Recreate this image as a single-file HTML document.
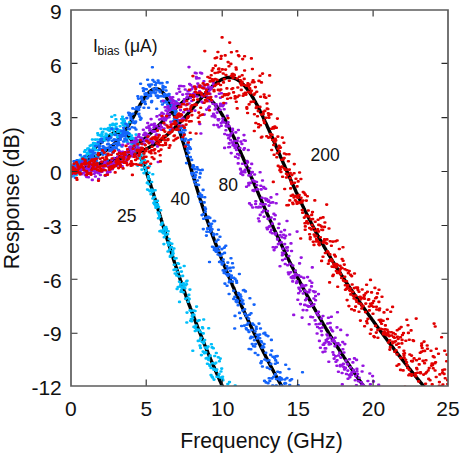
<!DOCTYPE html>
<html><head><meta charset="utf-8"><style>
html,body{margin:0;padding:0;background:#fff;}
svg{display:block;}
text{font-family:"Liberation Sans",sans-serif;fill:#111;}
</style></head><body>
<svg width="463" height="455" viewBox="0 0 463 455">
<defs><clipPath id="c"><rect x="71.0" y="10.0" width="377.0" height="376.0"/></clipPath></defs>
<rect width="463" height="455" fill="#fff"/>
<g clip-path="url(#c)" fill="none" stroke-linecap="round" stroke-linejoin="round">
<g stroke="#000" stroke-width="3.4">
<path d="M71.0 171.1 L71.3 170.8 L71.6 170.5 L71.9 170.3 L72.3 170.0 L72.6 169.7 L72.9 169.4 L73.2 169.1 L73.5 168.8 L73.8 168.5 L74.1 168.2 L74.5 167.9 L74.8 167.6 L75.1 167.3 L75.4 167.0 L75.7 166.7 L76.0 166.4 L76.3 166.1 L76.7 165.8 L77.0 165.5 L77.3 165.2 L77.6 164.9 L77.9 164.6 L78.2 164.3 L78.5 164.0 L78.9 163.7 L79.2 163.4 L79.5 163.1 L79.8 162.8 L80.1 162.5 L80.4 162.2 L80.7 161.9 L81.1 161.6 L81.4 161.3 L81.7 161.0 L82.0 160.7 L82.3 160.4 L82.6 160.1 L82.9 159.8 L83.3 159.5 L83.6 159.2 L83.9 158.8 L84.2 158.5 L84.5 158.2 L84.8 157.9 L85.1 157.6 L85.5 157.3 L85.8 157.0 L86.1 156.7 L86.4 156.4 L86.7 156.1 L87.0 155.8 L87.4 155.5 L87.7 155.2 L88.0 154.9 L88.3 154.5 L88.6 154.2 L88.9 153.9 L89.2 153.6 L89.6 153.3 L89.9 153.0 L90.2 152.7 L90.5 152.4 L90.8 152.1 L91.1 151.8 L91.4 151.5 L91.8 151.2 L92.1 150.9 L92.4 150.5 L92.7 150.2 L93.0 149.9 L93.3 149.6 L93.6 149.3 L94.0 149.0 L94.3 148.7 L94.6 148.4 L94.9 148.1 L95.2 147.8 L95.5 147.5 L95.8 147.2 L96.2 146.9 L96.5 146.6 L96.8 146.3 L97.1 146.0 L97.4 145.7 L97.7 145.4 L98.0 145.1 L98.4 144.8 L98.7 144.5 L99.0 144.2 L99.3 143.9 L99.6 143.6 L99.9 143.4 L100.2 143.1 L100.6 142.8 L100.9 142.5 L101.2 142.2 L101.5 141.9 L101.8 141.6 L102.1 141.4 L102.4 141.1 L102.8 140.8 L103.1 140.6 L103.4 140.3 L103.7 140.0 L104.0 139.7 L104.3 139.5 L104.6 139.2 L105.0 139.0 L105.3 138.7 L105.6 138.5 L105.9 138.2 L106.2 138.0 L106.5 137.7 L106.8 137.5 L107.2 137.2 L107.5 137.0 L107.8 136.8 L108.1 136.6 L108.4 136.3 L108.7 136.1 L109.0 135.9 L109.4 135.7 L109.7 135.5 L110.0 135.3 L110.3 135.1 L110.6 134.9 L110.9 134.7 L111.2 134.5 L111.6 134.3 L111.9 134.2 L112.2 134.0 L112.5 133.9 L112.8 133.7 L113.1 133.6 L113.4 133.4 L113.8 133.3 L114.1 133.2 L114.4 133.0 L114.7 132.9 L115.0 132.8 L115.3 132.7 L115.6 132.6 L116.0 132.5 L116.3 132.5 L116.6 132.4 L116.9 132.3 L117.2 132.3 L117.5 132.2 L117.8 132.2 L118.2 132.2 L118.5 132.2 L118.8 132.2 L119.1 132.2 L119.4 132.2 L119.7 132.2 L120.1 132.2 L120.4 132.3 L120.7 132.3 L121.0 132.4 L121.3 132.4 L121.6 132.5 L121.9 132.6 L122.3 132.7 L122.6 132.8 L122.9 132.9 L123.2 133.0 L123.5 133.1 L123.8 133.3 L124.1 133.4 L124.5 133.6 L124.8 133.8 L125.1 134.0 L125.4 134.1 L125.7 134.4 L126.0 134.6 L126.3 134.8 L126.7 135.0 L127.0 135.3 L127.3 135.5 L127.6 135.8 L127.9 136.1 L128.2 136.3 L128.5 136.6 L128.9 137.0 L129.2 137.3 L129.5 137.6 L129.8 137.9 L130.1 138.3 L130.4 138.7 L130.7 139.0 L131.1 139.4 L131.4 139.8 L131.7 140.2 L132.0 140.6 L132.3 141.1 L132.6 141.5 L132.9 142.0 L133.3 142.4 L133.6 142.9 L133.9 143.4 L134.2 143.9 L134.5 144.4 L134.8 145.0 L135.1 145.5 L135.5 146.1 L135.8 146.6 L136.1 147.2 L136.4 147.8 L136.7 148.4 L137.0 149.0 L137.3 149.6 L137.7 150.3 L138.0 150.9 L138.3 151.6 L138.6 152.2 L138.9 152.9 L139.2 153.6 L139.5 154.3 L139.9 155.0 L140.2 155.8 L140.5 156.5 L140.8 157.3 L141.1 158.0 L141.4 158.8 L141.7 159.6 L142.1 160.3 L142.4 161.1 L142.7 162.0 L143.0 162.8 L143.3 163.6 L143.6 164.4 L143.9 165.3 L144.3 166.1 L144.6 167.0 L144.9 167.9 L145.2 168.7 L145.5 169.6 L145.8 170.5 L146.1 171.4 L146.5 172.3 L146.8 173.2 L147.1 174.2 L147.4 175.1 L147.7 176.0 L148.0 177.0 L148.3 177.9 L148.7 178.9 L149.0 179.8 L149.3 180.8 L149.6 181.7 L149.9 182.7 L150.2 183.7 L150.6 184.7 L150.9 185.7 L151.2 186.7 L151.5 187.6 L151.8 188.6 L152.1 189.6 L152.4 190.7 L152.8 191.7 L153.1 192.7 L153.4 193.7 L153.7 194.7 L154.0 195.7 L154.3 196.8 L154.6 197.8 L155.0 198.8 L155.3 199.8 L155.6 200.9 L155.9 201.9 L156.2 202.9 L156.5 204.0 L156.8 205.0 L157.2 206.0 L157.5 207.1 L157.8 208.1 L158.1 209.2 L158.4 210.2 L158.7 211.3 L159.0 212.3 L159.4 213.3 L159.7 214.4 L160.0 215.4 L160.3 216.5 L160.6 217.5 L160.9 218.6 L161.2 219.6 L161.6 220.6 L161.9 221.7 L162.2 222.7 L162.5 223.8 L162.8 224.8 L163.1 225.8 L163.4 226.9 L163.8 227.9 L164.1 228.9 L164.4 230.0 L164.7 231.0 L165.0 232.0 L165.3 233.1 L165.6 234.1 L166.0 235.1 L166.3 236.1 L166.6 237.2 L166.9 238.2 L167.2 239.2 L167.5 240.2 L167.8 241.2 L168.2 242.3 L168.5 243.3 L168.8 244.3 L169.1 245.3 L169.4 246.3 L169.7 247.3 L170.0 248.3 L170.4 249.3 L170.7 250.3 L171.0 251.3 L171.3 252.3 L171.6 253.3 L171.9 254.3 L172.2 255.3 L172.6 256.2 L172.9 257.2 L173.2 258.2 L173.5 259.2 L173.8 260.2 L174.1 261.1 L174.4 262.1 L174.8 263.1 L175.1 264.0 L175.4 265.0 L175.7 266.0 L176.0 266.9 L176.3 267.9 L176.6 268.8 L177.0 269.8 L177.3 270.7 L177.6 271.7 L177.9 272.6 L178.2 273.6 L178.5 274.5 L178.8 275.4 L179.2 276.4 L179.5 277.3 L179.8 278.2 L180.1 279.1 L180.4 280.1 L180.7 281.0 L181.1 281.9 L181.4 282.8 L181.7 283.7 L182.0 284.6 L182.3 285.6 L182.6 286.5 L182.9 287.4 L183.3 288.3 L183.6 289.2 L183.9 290.1 L184.2 291.0 L184.5 291.8 L184.8 292.7 L185.1 293.6 L185.5 294.5 L185.8 295.4 L186.1 296.3 L186.4 297.1 L186.7 298.0 L187.0 298.9 L187.3 299.8 L187.7 300.6 L188.0 301.5 L188.3 302.4 L188.6 303.2 L188.9 304.1 L189.2 304.9 L189.5 305.8 L189.9 306.6 L190.2 307.5 L190.5 308.3 L190.8 309.2 L191.1 310.0 L191.4 310.9 L191.7 311.7 L192.1 312.6 L192.4 313.4 L192.7 314.2 L193.0 315.1 L193.3 315.9 L193.6 316.7 L193.9 317.6 L194.3 318.4 L194.6 319.2 L194.9 320.0 L195.2 320.8 L195.5 321.7 L195.8 322.5 L196.1 323.3 L196.5 324.1 L196.8 324.9 L197.1 325.7 L197.4 326.5 L197.7 327.3 L198.0 328.1 L198.3 328.9 L198.7 329.7 L199.0 330.5 L199.3 331.3 L199.6 332.1 L199.9 332.9 L200.2 333.7 L200.5 334.5 L200.9 335.3 L201.2 336.1 L201.5 336.9 L201.8 337.7 L202.1 338.4 L202.4 339.2 L202.7 340.0 L203.1 340.8 L203.4 341.6 L203.7 342.3 L204.0 343.1 L204.3 343.9 L204.6 344.7 L204.9 345.4 L205.3 346.2 L205.6 347.0 L205.9 347.7 L206.2 348.5 L206.5 349.3 L206.8 350.0 L207.1 350.8 L207.5 351.6 L207.8 352.3 L208.1 353.1 L208.4 353.8 L208.7 354.6 L209.0 355.3 L209.3 356.1 L209.7 356.9 L210.0 357.6 L210.3 358.3 L210.6 359.1 L210.9 359.8 L211.2 360.6 L211.5 361.3 L211.9 362.1 L212.2 362.8 L212.5 363.6 L212.8 364.3 L213.1 365.0 L213.4 365.8 L213.8 366.5 L214.1 367.2 L214.4 368.0 L214.7 368.7 L215.0 369.4 L215.3 370.2 L215.6 370.9 L216.0 371.6 L216.3 372.3 L216.6 373.1 L216.9 373.8 L217.2 374.5 L217.5 375.2 L217.8 376.0 L218.2 376.7 L218.5 377.4 L218.8 378.1 L219.1 378.8 L219.4 379.5 L219.7 380.3 L220.0 381.0 L220.4 381.7 L220.7 382.4 L221.0 383.1 L221.3 383.8 L221.6 384.5 L221.9 385.2 L222.2 385.9 L222.6 386.6 L222.9 387.3 L223.2 388.0 L223.5 388.7 L223.8 389.4 L224.1 390.1"/><path d="M71.0 171.2 L71.3 170.9 L71.6 170.6 L71.9 170.3 L72.3 170.1 L72.6 169.8 L72.9 169.5 L73.2 169.3 L73.5 169.0 L73.8 168.8 L74.1 168.5 L74.5 168.3 L74.8 168.0 L75.1 167.8 L75.4 167.6 L75.7 167.3 L76.0 167.1 L76.3 166.9 L76.7 166.6 L77.0 166.4 L77.3 166.2 L77.6 166.0 L77.9 165.8 L78.2 165.6 L78.5 165.4 L78.9 165.2 L79.2 165.0 L79.5 164.8 L79.8 164.6 L80.1 164.4 L80.4 164.2 L80.7 164.0 L81.1 163.8 L81.4 163.6 L81.7 163.4 L82.0 163.2 L82.3 163.1 L82.6 162.9 L82.9 162.7 L83.3 162.5 L83.6 162.3 L83.9 162.2 L84.2 162.0 L84.5 161.8 L84.8 161.7 L85.1 161.5 L85.5 161.3 L85.8 161.2 L86.1 161.0 L86.4 160.9 L86.7 160.7 L87.0 160.5 L87.4 160.4 L87.7 160.2 L88.0 160.1 L88.3 159.9 L88.6 159.8 L88.9 159.6 L89.2 159.4 L89.6 159.3 L89.9 159.1 L90.2 159.0 L90.5 158.8 L90.8 158.7 L91.1 158.5 L91.4 158.4 L91.8 158.2 L92.1 158.1 L92.4 157.9 L92.7 157.8 L93.0 157.6 L93.3 157.5 L93.6 157.3 L94.0 157.2 L94.3 157.0 L94.6 156.9 L94.9 156.7 L95.2 156.6 L95.5 156.4 L95.8 156.2 L96.2 156.1 L96.5 155.9 L96.8 155.8 L97.1 155.6 L97.4 155.5 L97.7 155.3 L98.0 155.1 L98.4 155.0 L98.7 154.8 L99.0 154.6 L99.3 154.5 L99.6 154.3 L99.9 154.1 L100.2 154.0 L100.6 153.8 L100.9 153.6 L101.2 153.4 L101.5 153.3 L101.8 153.1 L102.1 152.9 L102.4 152.7 L102.8 152.5 L103.1 152.3 L103.4 152.2 L103.7 152.0 L104.0 151.8 L104.3 151.6 L104.6 151.4 L105.0 151.2 L105.3 151.0 L105.6 150.8 L105.9 150.6 L106.2 150.3 L106.5 150.1 L106.8 149.9 L107.2 149.7 L107.5 149.5 L107.8 149.2 L108.1 149.0 L108.4 148.8 L108.7 148.6 L109.0 148.3 L109.4 148.1 L109.7 147.8 L110.0 147.6 L110.3 147.3 L110.6 147.1 L110.9 146.8 L111.2 146.6 L111.6 146.3 L111.9 146.0 L112.2 145.7 L112.5 145.5 L112.8 145.2 L113.1 144.9 L113.4 144.6 L113.8 144.3 L114.1 144.0 L114.4 143.7 L114.7 143.4 L115.0 143.1 L115.3 142.8 L115.6 142.5 L116.0 142.2 L116.3 141.9 L116.6 141.5 L116.9 141.2 L117.2 140.9 L117.5 140.5 L117.8 140.2 L118.2 139.8 L118.5 139.5 L118.8 139.1 L119.1 138.7 L119.4 138.4 L119.7 138.0 L120.1 137.6 L120.4 137.2 L120.7 136.8 L121.0 136.4 L121.3 136.0 L121.6 135.6 L121.9 135.2 L122.3 134.8 L122.6 134.4 L122.9 134.0 L123.2 133.5 L123.5 133.1 L123.8 132.7 L124.1 132.2 L124.5 131.8 L124.8 131.3 L125.1 130.8 L125.4 130.4 L125.7 129.9 L126.0 129.4 L126.3 129.0 L126.7 128.5 L127.0 128.0 L127.3 127.5 L127.6 127.0 L127.9 126.5 L128.2 126.0 L128.5 125.4 L128.9 124.9 L129.2 124.4 L129.5 123.8 L129.8 123.3 L130.1 122.8 L130.4 122.2 L130.7 121.7 L131.1 121.1 L131.4 120.6 L131.7 120.0 L132.0 119.4 L132.3 118.9 L132.6 118.3 L132.9 117.7 L133.3 117.2 L133.6 116.6 L133.9 116.0 L134.2 115.5 L134.5 114.9 L134.8 114.3 L135.1 113.7 L135.5 113.1 L135.8 112.6 L136.1 112.0 L136.4 111.4 L136.7 110.8 L137.0 110.3 L137.3 109.7 L137.7 109.1 L138.0 108.6 L138.3 108.0 L138.6 107.4 L138.9 106.9 L139.2 106.3 L139.5 105.8 L139.9 105.2 L140.2 104.7 L140.5 104.1 L140.8 103.6 L141.1 103.1 L141.4 102.6 L141.7 102.0 L142.1 101.5 L142.4 101.0 L142.7 100.5 L143.0 100.0 L143.3 99.6 L143.6 99.1 L143.9 98.6 L144.3 98.2 L144.6 97.7 L144.9 97.3 L145.2 96.8 L145.5 96.4 L145.8 96.0 L146.1 95.6 L146.5 95.2 L146.8 94.8 L147.1 94.4 L147.4 94.1 L147.7 93.7 L148.0 93.4 L148.3 93.0 L148.7 92.7 L149.0 92.4 L149.3 92.1 L149.6 91.8 L149.9 91.5 L150.2 91.3 L150.6 91.0 L150.9 90.8 L151.2 90.5 L151.5 90.3 L151.8 90.1 L152.1 89.9 L152.4 89.8 L152.8 89.6 L153.1 89.4 L153.4 89.3 L153.7 89.2 L154.0 89.1 L154.3 89.0 L154.6 88.9 L155.0 88.9 L155.3 88.8 L155.6 88.8 L155.9 88.8 L156.2 88.8 L156.5 88.8 L156.8 88.8 L157.2 88.9 L157.5 88.9 L157.8 89.0 L158.1 89.1 L158.4 89.2 L158.7 89.4 L159.0 89.5 L159.4 89.7 L159.7 89.8 L160.0 90.0 L160.3 90.3 L160.6 90.5 L160.9 90.7 L161.2 91.0 L161.6 91.3 L161.9 91.6 L162.2 91.9 L162.5 92.2 L162.8 92.6 L163.1 92.9 L163.4 93.3 L163.8 93.7 L164.1 94.1 L164.4 94.6 L164.7 95.0 L165.0 95.5 L165.3 95.9 L165.6 96.4 L166.0 97.0 L166.3 97.5 L166.6 98.0 L166.9 98.6 L167.2 99.2 L167.5 99.7 L167.8 100.3 L168.2 101.0 L168.5 101.6 L168.8 102.2 L169.1 102.9 L169.4 103.6 L169.7 104.2 L170.0 104.9 L170.4 105.6 L170.7 106.4 L171.0 107.1 L171.3 107.8 L171.6 108.6 L171.9 109.4 L172.2 110.2 L172.6 110.9 L172.9 111.7 L173.2 112.6 L173.5 113.4 L173.8 114.2 L174.1 115.1 L174.4 115.9 L174.8 116.8 L175.1 117.6 L175.4 118.5 L175.7 119.4 L176.0 120.3 L176.3 121.2 L176.6 122.1 L177.0 123.0 L177.3 124.0 L177.6 124.9 L177.9 125.8 L178.2 126.8 L178.5 127.8 L178.8 128.7 L179.2 129.7 L179.5 130.7 L179.8 131.6 L180.1 132.6 L180.4 133.6 L180.7 134.6 L181.1 135.6 L181.4 136.6 L181.7 137.6 L182.0 138.6 L182.3 139.6 L182.6 140.7 L182.9 141.7 L183.3 142.7 L183.6 143.7 L183.9 144.8 L184.2 145.8 L184.5 146.8 L184.8 147.9 L185.1 148.9 L185.5 150.0 L185.8 151.0 L186.1 152.1 L186.4 153.1 L186.7 154.2 L187.0 155.2 L187.3 156.3 L187.7 157.4 L188.0 158.4 L188.3 159.5 L188.6 160.5 L188.9 161.6 L189.2 162.7 L189.5 163.7 L189.9 164.8 L190.2 165.9 L190.5 166.9 L190.8 168.0 L191.1 169.1 L191.4 170.1 L191.7 171.2 L192.1 172.2 L192.4 173.3 L192.7 174.4 L193.0 175.4 L193.3 176.5 L193.6 177.5 L193.9 178.6 L194.3 179.6 L194.6 180.7 L194.9 181.7 L195.2 182.8 L195.5 183.8 L195.8 184.9 L196.1 185.9 L196.5 187.0 L196.8 188.0 L197.1 189.0 L197.4 190.0 L197.7 191.1 L198.0 192.1 L198.3 193.1 L198.7 194.1 L199.0 195.1 L199.3 196.2 L199.6 197.2 L199.9 198.2 L200.2 199.2 L200.5 200.1 L200.9 201.1 L201.2 202.1 L201.5 203.1 L201.8 204.1 L202.1 205.1 L202.4 206.0 L202.7 207.0 L203.1 208.0 L203.4 208.9 L203.7 209.9 L204.0 210.8 L204.3 211.8 L204.6 212.7 L204.9 213.7 L205.3 214.6 L205.6 215.5 L205.9 216.5 L206.2 217.4 L206.5 218.3 L206.8 219.2 L207.1 220.2 L207.5 221.1 L207.8 222.0 L208.1 222.9 L208.4 223.8 L208.7 224.7 L209.0 225.6 L209.3 226.5 L209.7 227.4 L210.0 228.3 L210.3 229.1 L210.6 230.0 L210.9 230.9 L211.2 231.8 L211.5 232.6 L211.9 233.5 L212.2 234.4 L212.5 235.2 L212.8 236.1 L213.1 236.9 L213.4 237.8 L213.8 238.6 L214.1 239.5 L214.4 240.3 L214.7 241.2 L215.0 242.0 L215.3 242.8 L215.6 243.7 L216.0 244.5 L216.3 245.3 L216.6 246.2 L216.9 247.0 L217.2 247.8 L217.5 248.6 L217.8 249.4 L218.2 250.2 L218.5 251.0 L218.8 251.9 L219.1 252.7 L219.4 253.5 L219.7 254.3 L220.0 255.1 L220.4 255.8 L220.7 256.6 L221.0 257.4 L221.3 258.2 L221.6 259.0 L221.9 259.8 L222.2 260.6 L222.6 261.4 L222.9 262.1 L223.2 262.9 L223.5 263.7 L223.8 264.5 L224.1 265.2 L224.4 266.0 L224.8 266.8 L225.1 267.5 L225.4 268.3 L225.7 269.1 L226.0 269.8 L226.3 270.6 L226.6 271.3 L227.0 272.1 L227.3 272.9 L227.6 273.6 L227.9 274.4 L228.2 275.1 L228.5 275.9 L228.8 276.6 L229.2 277.4 L229.5 278.1 L229.8 278.9 L230.1 279.6 L230.4 280.3 L230.7 281.1 L231.0 281.8 L231.4 282.6 L231.7 283.3 L232.0 284.0 L232.3 284.8 L232.6 285.5 L232.9 286.3 L233.2 287.0 L233.6 287.7 L233.9 288.5 L234.2 289.2 L234.5 289.9 L234.8 290.6 L235.1 291.4 L235.4 292.1 L235.8 292.8 L236.1 293.5 L236.4 294.2 L236.7 295.0 L237.0 295.7 L237.3 296.4 L237.6 297.1 L238.0 297.8 L238.3 298.5 L238.6 299.3 L238.9 300.0 L239.2 300.7 L239.5 301.4 L239.8 302.1 L240.2 302.8 L240.5 303.5 L240.8 304.2 L241.1 304.9 L241.4 305.6 L241.7 306.3 L242.0 307.0 L242.4 307.7 L242.7 308.4 L243.0 309.1 L243.3 309.8 L243.6 310.5 L243.9 311.2 L244.3 311.9 L244.6 312.6 L244.9 313.3 L245.2 313.9 L245.5 314.6 L245.8 315.3 L246.1 316.0 L246.5 316.7 L246.8 317.4 L247.1 318.1 L247.4 318.7 L247.7 319.4 L248.0 320.1 L248.3 320.8 L248.7 321.4 L249.0 322.1 L249.3 322.8 L249.6 323.5 L249.9 324.1 L250.2 324.8 L250.5 325.5 L250.9 326.1 L251.2 326.8 L251.5 327.5 L251.8 328.1 L252.1 328.8 L252.4 329.5 L252.7 330.1 L253.1 330.8 L253.4 331.4 L253.7 332.1 L254.0 332.8 L254.3 333.4 L254.6 334.1 L254.9 334.7 L255.3 335.4 L255.6 336.0 L255.9 336.7 L256.2 337.3 L256.5 338.0 L256.8 338.6 L257.1 339.3 L257.5 339.9 L257.8 340.5 L258.1 341.2 L258.4 341.8 L258.7 342.5 L259.0 343.1 L259.3 343.7 L259.7 344.4 L260.0 345.0 L260.3 345.6 L260.6 346.3 L260.9 346.9 L261.2 347.5 L261.5 348.2 L261.9 348.8 L262.2 349.4 L262.5 350.1 L262.8 350.7 L263.1 351.3 L263.4 351.9 L263.7 352.6 L264.1 353.2 L264.4 353.8 L264.7 354.4 L265.0 355.0 L265.3 355.6 L265.6 356.3 L265.9 356.9 L266.3 357.5 L266.6 358.1 L266.9 358.7 L267.2 359.3 L267.5 359.9 L267.8 360.5 L268.1 361.1 L268.5 361.8 L268.8 362.4 L269.1 363.0 L269.4 363.6 L269.7 364.2 L270.0 364.8 L270.3 365.4 L270.7 366.0 L271.0 366.6 L271.3 367.1 L271.6 367.7 L271.9 368.3 L272.2 368.9 L272.5 369.5 L272.9 370.1 L273.2 370.7 L273.5 371.3 L273.8 371.9 L274.1 372.5 L274.4 373.0 L274.7 373.6 L275.1 374.2 L275.4 374.8 L275.7 375.4 L276.0 375.9 L276.3 376.5 L276.6 377.1 L277.0 377.7 L277.3 378.3 L277.6 378.8 L277.9 379.4 L278.2 380.0 L278.5 380.5 L278.8 381.1 L279.2 381.7 L279.5 382.2 L279.8 382.8 L280.1 383.4 L280.4 383.9 L280.7 384.5 L281.0 385.1 L281.4 385.6 L281.7 386.2 L282.0 386.8 L282.3 387.3 L282.6 387.9 L282.9 388.4 L283.2 389.0 L283.6 389.5 L283.9 390.1"/><path d="M71.0 169.7 L71.3 169.7 L71.6 169.8 L71.9 169.8 L72.3 169.8 L72.6 169.8 L72.9 169.8 L73.2 169.7 L73.5 169.7 L73.8 169.7 L74.1 169.7 L74.5 169.7 L74.8 169.7 L75.1 169.7 L75.4 169.7 L75.7 169.7 L76.0 169.7 L76.3 169.7 L76.7 169.6 L77.0 169.6 L77.3 169.6 L77.6 169.6 L77.9 169.6 L78.2 169.5 L78.5 169.5 L78.9 169.5 L79.2 169.5 L79.5 169.5 L79.8 169.4 L80.1 169.4 L80.4 169.4 L80.7 169.3 L81.1 169.3 L81.4 169.3 L81.7 169.2 L82.0 169.2 L82.3 169.2 L82.6 169.1 L82.9 169.1 L83.3 169.1 L83.6 169.0 L83.9 169.0 L84.2 168.9 L84.5 168.9 L84.8 168.8 L85.1 168.8 L85.5 168.8 L85.8 168.7 L86.1 168.7 L86.4 168.6 L86.7 168.6 L87.0 168.5 L87.4 168.4 L87.7 168.4 L88.0 168.3 L88.3 168.3 L88.6 168.2 L88.9 168.2 L89.2 168.1 L89.6 168.0 L89.9 168.0 L90.2 167.9 L90.5 167.8 L90.8 167.8 L91.1 167.7 L91.4 167.6 L91.8 167.6 L92.1 167.5 L92.4 167.4 L92.7 167.4 L93.0 167.3 L93.3 167.2 L93.6 167.1 L94.0 167.1 L94.3 167.0 L94.6 166.9 L94.9 166.8 L95.2 166.7 L95.5 166.6 L95.8 166.6 L96.2 166.5 L96.5 166.4 L96.8 166.3 L97.1 166.2 L97.4 166.1 L97.7 166.0 L98.0 165.9 L98.4 165.8 L98.7 165.7 L99.0 165.6 L99.3 165.5 L99.6 165.4 L99.9 165.3 L100.2 165.2 L100.6 165.1 L100.9 165.0 L101.2 164.9 L101.5 164.8 L101.8 164.7 L102.1 164.6 L102.4 164.5 L102.8 164.4 L103.1 164.3 L103.4 164.2 L103.7 164.0 L104.0 163.9 L104.3 163.8 L104.6 163.7 L105.0 163.6 L105.3 163.5 L105.6 163.3 L105.9 163.2 L106.2 163.1 L106.5 163.0 L106.8 162.8 L107.2 162.7 L107.5 162.6 L107.8 162.4 L108.1 162.3 L108.4 162.2 L108.7 162.0 L109.0 161.9 L109.4 161.8 L109.7 161.6 L110.0 161.5 L110.3 161.4 L110.6 161.2 L110.9 161.1 L111.2 160.9 L111.6 160.8 L111.9 160.6 L112.2 160.5 L112.5 160.3 L112.8 160.2 L113.1 160.0 L113.4 159.9 L113.8 159.7 L114.1 159.6 L114.4 159.4 L114.7 159.3 L115.0 159.1 L115.3 158.9 L115.6 158.8 L116.0 158.6 L116.3 158.5 L116.6 158.3 L116.9 158.1 L117.2 158.0 L117.5 157.8 L117.8 157.6 L118.2 157.5 L118.5 157.3 L118.8 157.1 L119.1 156.9 L119.4 156.8 L119.7 156.6 L120.1 156.4 L120.4 156.2 L120.7 156.0 L121.0 155.9 L121.3 155.7 L121.6 155.5 L121.9 155.3 L122.3 155.1 L122.6 154.9 L122.9 154.7 L123.2 154.5 L123.5 154.4 L123.8 154.2 L124.1 154.0 L124.5 153.8 L124.8 153.6 L125.1 153.4 L125.4 153.2 L125.7 153.0 L126.0 152.8 L126.3 152.6 L126.7 152.4 L127.0 152.2 L127.3 152.0 L127.6 151.7 L127.9 151.5 L128.2 151.3 L128.5 151.1 L128.9 150.9 L129.2 150.7 L129.5 150.5 L129.8 150.3 L130.1 150.0 L130.4 149.8 L130.7 149.6 L131.1 149.4 L131.4 149.1 L131.7 148.9 L132.0 148.7 L132.3 148.5 L132.6 148.2 L132.9 148.0 L133.3 147.8 L133.6 147.5 L133.9 147.3 L134.2 147.1 L134.5 146.8 L134.8 146.6 L135.1 146.4 L135.5 146.1 L135.8 145.9 L136.1 145.6 L136.4 145.4 L136.7 145.2 L137.0 144.9 L137.3 144.7 L137.7 144.4 L138.0 144.2 L138.3 143.9 L138.6 143.7 L138.9 143.4 L139.2 143.2 L139.5 142.9 L139.9 142.7 L140.2 142.4 L140.5 142.1 L140.8 141.9 L141.1 141.6 L141.4 141.4 L141.7 141.1 L142.1 140.8 L142.4 140.6 L142.7 140.3 L143.0 140.0 L143.3 139.8 L143.6 139.5 L143.9 139.2 L144.3 138.9 L144.6 138.7 L144.9 138.4 L145.2 138.1 L145.5 137.8 L145.8 137.6 L146.1 137.3 L146.5 137.0 L146.8 136.7 L147.1 136.4 L147.4 136.2 L147.7 135.9 L148.0 135.6 L148.3 135.3 L148.7 135.0 L149.0 134.7 L149.3 134.4 L149.6 134.1 L149.9 133.9 L150.2 133.6 L150.6 133.3 L150.9 133.0 L151.2 132.7 L151.5 132.4 L151.8 132.1 L152.1 131.8 L152.4 131.5 L152.8 131.2 L153.1 130.9 L153.4 130.6 L153.7 130.3 L154.0 130.0 L154.3 129.7 L154.6 129.4 L155.0 129.1 L155.3 128.8 L155.6 128.4 L155.9 128.1 L156.2 127.8 L156.5 127.5 L156.8 127.2 L157.2 126.9 L157.5 126.6 L157.8 126.3 L158.1 126.0 L158.4 125.7 L158.7 125.3 L159.0 125.0 L159.4 124.7 L159.7 124.4 L160.0 124.1 L160.3 123.8 L160.6 123.5 L160.9 123.1 L161.2 122.8 L161.6 122.5 L161.9 122.2 L162.2 121.9 L162.5 121.5 L162.8 121.2 L163.1 120.9 L163.4 120.6 L163.8 120.3 L164.1 119.9 L164.4 119.6 L164.7 119.3 L165.0 119.0 L165.3 118.7 L165.6 118.3 L166.0 118.0 L166.3 117.7 L166.6 117.4 L166.9 117.1 L167.2 116.7 L167.5 116.4 L167.8 116.1 L168.2 115.8 L168.5 115.5 L168.8 115.2 L169.1 114.8 L169.4 114.5 L169.7 114.2 L170.0 113.9 L170.4 113.6 L170.7 113.3 L171.0 112.9 L171.3 112.6 L171.6 112.3 L171.9 112.0 L172.2 111.7 L172.6 111.4 L172.9 111.1 L173.2 110.8 L173.5 110.5 L173.8 110.1 L174.1 109.8 L174.4 109.5 L174.8 109.2 L175.1 108.9 L175.4 108.6 L175.7 108.3 L176.0 108.0 L176.3 107.7 L176.6 107.4 L177.0 107.1 L177.3 106.9 L177.6 106.6 L177.9 106.3 L178.2 106.0 L178.5 105.7 L178.8 105.4 L179.2 105.1 L179.5 104.9 L179.8 104.6 L180.1 104.3 L180.4 104.0 L180.7 103.8 L181.1 103.5 L181.4 103.3 L181.7 103.0 L182.0 102.7 L182.3 102.5 L182.6 102.2 L182.9 102.0 L183.3 101.7 L183.6 101.5 L183.9 101.2 L184.2 101.0 L184.5 100.8 L184.8 100.5 L185.1 100.3 L185.5 100.1 L185.8 99.9 L186.1 99.6 L186.4 99.4 L186.7 99.2 L187.0 99.0 L187.3 98.8 L187.7 98.6 L188.0 98.4 L188.3 98.2 L188.6 98.0 L188.9 97.9 L189.2 97.7 L189.5 97.5 L189.9 97.3 L190.2 97.2 L190.5 97.0 L190.8 96.9 L191.1 96.7 L191.4 96.6 L191.7 96.4 L192.1 96.3 L192.4 96.2 L192.7 96.1 L193.0 95.9 L193.3 95.8 L193.6 95.7 L193.9 95.6 L194.3 95.5 L194.6 95.4 L194.9 95.4 L195.2 95.3 L195.5 95.2 L195.8 95.1 L196.1 95.1 L196.5 95.0 L196.8 95.0 L197.1 94.9 L197.4 94.9 L197.7 94.9 L198.0 94.9 L198.3 94.8 L198.7 94.8 L199.0 94.8 L199.3 94.8 L199.6 94.9 L199.9 94.9 L200.2 94.9 L200.5 94.9 L200.9 95.0 L201.2 95.0 L201.5 95.1 L201.8 95.1 L202.1 95.2 L202.4 95.3 L202.7 95.4 L203.1 95.4 L203.4 95.5 L203.7 95.7 L204.0 95.8 L204.3 95.9 L204.6 96.0 L204.9 96.1 L205.3 96.3 L205.6 96.4 L205.9 96.6 L206.2 96.8 L206.5 96.9 L206.8 97.1 L207.1 97.3 L207.5 97.5 L207.8 97.7 L208.1 97.9 L208.4 98.1 L208.7 98.4 L209.0 98.6 L209.3 98.8 L209.7 99.1 L210.0 99.3 L210.3 99.6 L210.6 99.9 L210.9 100.2 L211.2 100.4 L211.5 100.7 L211.9 101.0 L212.2 101.3 L212.5 101.7 L212.8 102.0 L213.1 102.3 L213.4 102.7 L213.8 103.0 L214.1 103.4 L214.4 103.7 L214.7 104.1 L215.0 104.4 L215.3 104.8 L215.6 105.2 L216.0 105.6 L216.3 106.0 L216.6 106.4 L216.9 106.8 L217.2 107.3 L217.5 107.7 L217.8 108.1 L218.2 108.6 L218.5 109.0 L218.8 109.5 L219.1 109.9 L219.4 110.4 L219.7 110.9 L220.0 111.3 L220.4 111.8 L220.7 112.3 L221.0 112.8 L221.3 113.3 L221.6 113.8 L221.9 114.3 L222.2 114.9 L222.6 115.4 L222.9 115.9 L223.2 116.5 L223.5 117.0 L223.8 117.5 L224.1 118.1 L224.4 118.7 L224.8 119.2 L225.1 119.8 L225.4 120.4 L225.7 120.9 L226.0 121.5 L226.3 122.1 L226.6 122.7 L227.0 123.3 L227.3 123.9 L227.6 124.5 L227.9 125.1 L228.2 125.7 L228.5 126.3 L228.8 126.9 L229.2 127.6 L229.5 128.2 L229.8 128.8 L230.1 129.5 L230.4 130.1 L230.7 130.7 L231.0 131.4 L231.4 132.0 L231.7 132.7 L232.0 133.3 L232.3 134.0 L232.6 134.7 L232.9 135.3 L233.2 136.0 L233.6 136.7 L233.9 137.3 L234.2 138.0 L234.5 138.7 L234.8 139.4 L235.1 140.0 L235.4 140.7 L235.8 141.4 L236.1 142.1 L236.4 142.8 L236.7 143.5 L237.0 144.2 L237.3 144.9 L237.6 145.6 L238.0 146.3 L238.3 147.0 L238.6 147.7 L238.9 148.4 L239.2 149.1 L239.5 149.8 L239.8 150.5 L240.2 151.2 L240.5 152.0 L240.8 152.7 L241.1 153.4 L241.4 154.1 L241.7 154.8 L242.0 155.6 L242.4 156.3 L242.7 157.0 L243.0 157.7 L243.3 158.5 L243.6 159.2 L243.9 159.9 L244.3 160.6 L244.6 161.4 L244.9 162.1 L245.2 162.8 L245.5 163.6 L245.8 164.3 L246.1 165.0 L246.5 165.8 L246.8 166.5 L247.1 167.2 L247.4 168.0 L247.7 168.7 L248.0 169.4 L248.3 170.2 L248.7 170.9 L249.0 171.6 L249.3 172.4 L249.6 173.1 L249.9 173.8 L250.2 174.6 L250.5 175.3 L250.9 176.0 L251.2 176.8 L251.5 177.5 L251.8 178.2 L252.1 179.0 L252.4 179.7 L252.7 180.5 L253.1 181.2 L253.4 181.9 L253.7 182.7 L254.0 183.4 L254.3 184.1 L254.6 184.9 L254.9 185.6 L255.3 186.3 L255.6 187.1 L255.9 187.8 L256.2 188.5 L256.5 189.3 L256.8 190.0 L257.1 190.7 L257.5 191.5 L257.8 192.2 L258.1 192.9 L258.4 193.6 L258.7 194.4 L259.0 195.1 L259.3 195.8 L259.7 196.6 L260.0 197.3 L260.3 198.0 L260.6 198.7 L260.9 199.5 L261.2 200.2 L261.5 200.9 L261.9 201.6 L262.2 202.4 L262.5 203.1 L262.8 203.8 L263.1 204.5 L263.4 205.2 L263.7 205.9 L264.1 206.7 L264.4 207.4 L264.7 208.1 L265.0 208.8 L265.3 209.5 L265.6 210.2 L265.9 211.0 L266.3 211.7 L266.6 212.4 L266.9 213.1 L267.2 213.8 L267.5 214.5 L267.8 215.2 L268.1 215.9 L268.5 216.6 L268.8 217.3 L269.1 218.0 L269.4 218.7 L269.7 219.4 L270.0 220.1 L270.3 220.8 L270.7 221.5 L271.0 222.2 L271.3 222.9 L271.6 223.6 L271.9 224.3 L272.2 225.0 L272.5 225.7 L272.9 226.4 L273.2 227.1 L273.5 227.8 L273.8 228.5 L274.1 229.1 L274.4 229.8 L274.7 230.5 L275.1 231.2 L275.4 231.9 L275.7 232.6 L276.0 233.2 L276.3 233.9 L276.6 234.6 L277.0 235.3 L277.3 236.0 L277.6 236.6 L277.9 237.3 L278.2 238.0 L278.5 238.7 L278.8 239.3 L279.2 240.0 L279.5 240.7 L279.8 241.3 L280.1 242.0 L280.4 242.7 L280.7 243.3 L281.0 244.0 L281.4 244.7 L281.7 245.3 L282.0 246.0 L282.3 246.6 L282.6 247.3 L282.9 248.0 L283.2 248.6 L283.6 249.3 L283.9 249.9 L284.2 250.6 L284.5 251.2 L284.8 251.9 L285.1 252.5 L285.4 253.2 L285.8 253.8 L286.1 254.5 L286.4 255.1 L286.7 255.8 L287.0 256.4 L287.3 257.1 L287.6 257.7 L288.0 258.3 L288.3 259.0 L288.6 259.6 L288.9 260.3 L289.2 260.9 L289.5 261.5 L289.8 262.2 L290.2 262.8 L290.5 263.4 L290.8 264.1 L291.1 264.7 L291.4 265.3 L291.7 266.0 L292.0 266.6 L292.4 267.2 L292.7 267.8 L293.0 268.5 L293.3 269.1 L293.6 269.7 L293.9 270.3 L294.2 270.9 L294.6 271.6 L294.9 272.2 L295.2 272.8 L295.5 273.4 L295.8 274.0 L296.1 274.6 L296.4 275.3 L296.8 275.9 L297.1 276.5 L297.4 277.1 L297.7 277.7 L298.0 278.3 L298.3 278.9 L298.6 279.5 L299.0 280.1 L299.3 280.7 L299.6 281.3 L299.9 281.9 L300.2 282.5 L300.5 283.1 L300.8 283.7 L301.2 284.3 L301.5 284.9 L301.8 285.5 L302.1 286.1 L302.4 286.7 L302.7 287.3 L303.0 287.9 L303.4 288.5 L303.7 289.1 L304.0 289.6 L304.3 290.2 L304.6 290.8 L304.9 291.4 L305.2 292.0 L305.6 292.6 L305.9 293.2 L306.2 293.7 L306.5 294.3 L306.8 294.9 L307.1 295.5 L307.5 296.1 L307.8 296.6 L308.1 297.2 L308.4 297.8 L308.7 298.4 L309.0 298.9 L309.3 299.5 L309.7 300.1 L310.0 300.6 L310.3 301.2 L310.6 301.8 L310.9 302.3 L311.2 302.9 L311.5 303.5 L311.9 304.0 L312.2 304.6 L312.5 305.2 L312.8 305.7 L313.1 306.3 L313.4 306.8 L313.7 307.4 L314.1 308.0 L314.4 308.5 L314.7 309.1 L315.0 309.6 L315.3 310.2 L315.6 310.7 L315.9 311.3 L316.3 311.8 L316.6 312.4 L316.9 312.9 L317.2 313.5 L317.5 314.0 L317.8 314.6 L318.1 315.1 L318.5 315.7 L318.8 316.2 L319.1 316.8 L319.4 317.3 L319.7 317.9 L320.0 318.4 L320.3 318.9 L320.7 319.5 L321.0 320.0 L321.3 320.6 L321.6 321.1 L321.9 321.6 L322.2 322.2 L322.5 322.7 L322.9 323.2 L323.2 323.8 L323.5 324.3 L323.8 324.8 L324.1 325.4 L324.4 325.9 L324.7 326.4 L325.1 326.9 L325.4 327.5 L325.7 328.0 L326.0 328.5 L326.3 329.0 L326.6 329.6 L326.9 330.1 L327.3 330.6 L327.6 331.1 L327.9 331.7 L328.2 332.2 L328.5 332.7 L328.8 333.2 L329.1 333.7 L329.5 334.3 L329.8 334.8 L330.1 335.3 L330.4 335.8 L330.7 336.3 L331.0 336.8 L331.3 337.3 L331.7 337.8 L332.0 338.4 L332.3 338.9 L332.6 339.4 L332.9 339.9 L333.2 340.4 L333.5 340.9 L333.9 341.4 L334.2 341.9 L334.5 342.4 L334.8 342.9 L335.1 343.4 L335.4 343.9 L335.7 344.4 L336.1 344.9 L336.4 345.4 L336.7 345.9 L337.0 346.4 L337.3 346.9 L337.6 347.4 L337.9 347.9 L338.3 348.4 L338.6 348.9 L338.9 349.4 L339.2 349.9 L339.5 350.4 L339.8 350.9 L340.2 351.4 L340.5 351.9 L340.8 352.3 L341.1 352.8 L341.4 353.3 L341.7 353.8 L342.0 354.3 L342.4 354.8 L342.7 355.3 L343.0 355.8 L343.3 356.2 L343.6 356.7 L343.9 357.2 L344.2 357.7 L344.6 358.2 L344.9 358.6 L345.2 359.1 L345.5 359.6 L345.8 360.1 L346.1 360.6 L346.4 361.0 L346.8 361.5 L347.1 362.0 L347.4 362.5 L347.7 362.9 L348.0 363.4 L348.3 363.9 L348.6 364.4 L349.0 364.8 L349.3 365.3 L349.6 365.8 L349.9 366.2 L350.2 366.7 L350.5 367.2 L350.8 367.7 L351.2 368.1 L351.5 368.6 L351.8 369.1 L352.1 369.5 L352.4 370.0 L352.7 370.4 L353.0 370.9 L353.4 371.4 L353.7 371.8 L354.0 372.3 L354.3 372.8 L354.6 373.2 L354.9 373.7 L355.2 374.1 L355.6 374.6 L355.9 375.1 L356.2 375.5 L356.5 376.0 L356.8 376.4 L357.1 376.9 L357.4 377.3 L357.8 377.8 L358.1 378.2 L358.4 378.7 L358.7 379.1 L359.0 379.6 L359.3 380.1 L359.6 380.5 L360.0 381.0 L360.3 381.4 L360.6 381.9 L360.9 382.3 L361.2 382.7 L361.5 383.2 L361.8 383.6 L362.2 384.1 L362.5 384.5 L362.8 385.0 L363.1 385.4 L363.4 385.9 L363.7 386.3 L364.0 386.8 L364.4 387.2 L364.7 387.6 L365.0 388.1 L365.3 388.5 L365.6 389.0 L365.9 389.4 L366.2 389.8 L366.6 390.3"/><path d="M71.0 171.6 L71.3 171.5 L71.6 171.4 L71.9 171.3 L72.3 171.2 L72.6 171.1 L72.9 170.9 L73.2 170.8 L73.5 170.7 L73.8 170.6 L74.1 170.5 L74.5 170.4 L74.8 170.3 L75.1 170.2 L75.4 170.1 L75.7 170.0 L76.0 169.9 L76.3 169.8 L76.7 169.7 L77.0 169.6 L77.3 169.5 L77.6 169.4 L77.9 169.3 L78.2 169.2 L78.5 169.1 L78.9 169.0 L79.2 168.9 L79.5 168.9 L79.8 168.8 L80.1 168.7 L80.4 168.6 L80.7 168.5 L81.1 168.4 L81.4 168.3 L81.7 168.2 L82.0 168.1 L82.3 168.0 L82.6 167.9 L82.9 167.8 L83.3 167.7 L83.6 167.6 L83.9 167.6 L84.2 167.5 L84.5 167.4 L84.8 167.3 L85.1 167.2 L85.5 167.1 L85.8 167.0 L86.1 166.9 L86.4 166.8 L86.7 166.8 L87.0 166.7 L87.4 166.6 L87.7 166.5 L88.0 166.4 L88.3 166.3 L88.6 166.2 L88.9 166.2 L89.2 166.1 L89.6 166.0 L89.9 165.9 L90.2 165.8 L90.5 165.7 L90.8 165.7 L91.1 165.6 L91.4 165.5 L91.8 165.4 L92.1 165.3 L92.4 165.2 L92.7 165.2 L93.0 165.1 L93.3 165.0 L93.6 164.9 L94.0 164.8 L94.3 164.8 L94.6 164.7 L94.9 164.6 L95.2 164.5 L95.5 164.4 L95.8 164.4 L96.2 164.3 L96.5 164.2 L96.8 164.1 L97.1 164.0 L97.4 164.0 L97.7 163.9 L98.0 163.8 L98.4 163.7 L98.7 163.6 L99.0 163.6 L99.3 163.5 L99.6 163.4 L99.9 163.3 L100.2 163.3 L100.6 163.2 L100.9 163.1 L101.2 163.0 L101.5 163.0 L101.8 162.9 L102.1 162.8 L102.4 162.7 L102.8 162.7 L103.1 162.6 L103.4 162.5 L103.7 162.4 L104.0 162.4 L104.3 162.3 L104.6 162.2 L105.0 162.1 L105.3 162.1 L105.6 162.0 L105.9 161.9 L106.2 161.8 L106.5 161.8 L106.8 161.7 L107.2 161.6 L107.5 161.5 L107.8 161.5 L108.1 161.4 L108.4 161.3 L108.7 161.2 L109.0 161.2 L109.4 161.1 L109.7 161.0 L110.0 161.0 L110.3 160.9 L110.6 160.8 L110.9 160.7 L111.2 160.7 L111.6 160.6 L111.9 160.5 L112.2 160.4 L112.5 160.4 L112.8 160.3 L113.1 160.2 L113.4 160.1 L113.8 160.0 L114.1 160.0 L114.4 159.9 L114.7 159.8 L115.0 159.7 L115.3 159.7 L115.6 159.6 L116.0 159.5 L116.3 159.4 L116.6 159.3 L116.9 159.3 L117.2 159.2 L117.5 159.1 L117.8 159.0 L118.2 159.0 L118.5 158.9 L118.8 158.8 L119.1 158.7 L119.4 158.6 L119.7 158.5 L120.1 158.5 L120.4 158.4 L120.7 158.3 L121.0 158.2 L121.3 158.1 L121.6 158.0 L121.9 158.0 L122.3 157.9 L122.6 157.8 L122.9 157.7 L123.2 157.6 L123.5 157.5 L123.8 157.4 L124.1 157.3 L124.5 157.2 L124.8 157.2 L125.1 157.1 L125.4 157.0 L125.7 156.9 L126.0 156.8 L126.3 156.7 L126.7 156.6 L127.0 156.5 L127.3 156.4 L127.6 156.3 L127.9 156.2 L128.2 156.1 L128.5 156.0 L128.9 155.9 L129.2 155.8 L129.5 155.7 L129.8 155.6 L130.1 155.5 L130.4 155.4 L130.7 155.3 L131.1 155.2 L131.4 155.1 L131.7 155.0 L132.0 154.9 L132.3 154.8 L132.6 154.7 L132.9 154.5 L133.3 154.4 L133.6 154.3 L133.9 154.2 L134.2 154.1 L134.5 154.0 L134.8 153.9 L135.1 153.8 L135.5 153.6 L135.8 153.5 L136.1 153.4 L136.4 153.3 L136.7 153.2 L137.0 153.0 L137.3 152.9 L137.7 152.8 L138.0 152.7 L138.3 152.5 L138.6 152.4 L138.9 152.3 L139.2 152.1 L139.5 152.0 L139.9 151.9 L140.2 151.7 L140.5 151.6 L140.8 151.5 L141.1 151.3 L141.4 151.2 L141.7 151.1 L142.1 150.9 L142.4 150.8 L142.7 150.6 L143.0 150.5 L143.3 150.3 L143.6 150.2 L143.9 150.0 L144.3 149.9 L144.6 149.7 L144.9 149.6 L145.2 149.4 L145.5 149.3 L145.8 149.1 L146.1 149.0 L146.5 148.8 L146.8 148.6 L147.1 148.5 L147.4 148.3 L147.7 148.2 L148.0 148.0 L148.3 147.8 L148.7 147.7 L149.0 147.5 L149.3 147.3 L149.6 147.1 L149.9 147.0 L150.2 146.8 L150.6 146.6 L150.9 146.4 L151.2 146.3 L151.5 146.1 L151.8 145.9 L152.1 145.7 L152.4 145.5 L152.8 145.3 L153.1 145.1 L153.4 144.9 L153.7 144.8 L154.0 144.6 L154.3 144.4 L154.6 144.2 L155.0 144.0 L155.3 143.8 L155.6 143.6 L155.9 143.4 L156.2 143.2 L156.5 142.9 L156.8 142.7 L157.2 142.5 L157.5 142.3 L157.8 142.1 L158.1 141.9 L158.4 141.7 L158.7 141.4 L159.0 141.2 L159.4 141.0 L159.7 140.8 L160.0 140.5 L160.3 140.3 L160.6 140.1 L160.9 139.9 L161.2 139.6 L161.6 139.4 L161.9 139.2 L162.2 138.9 L162.5 138.7 L162.8 138.4 L163.1 138.2 L163.4 137.9 L163.8 137.7 L164.1 137.4 L164.4 137.2 L164.7 136.9 L165.0 136.7 L165.3 136.4 L165.6 136.2 L166.0 135.9 L166.3 135.6 L166.6 135.4 L166.9 135.1 L167.2 134.8 L167.5 134.6 L167.8 134.3 L168.2 134.0 L168.5 133.7 L168.8 133.5 L169.1 133.2 L169.4 132.9 L169.7 132.6 L170.0 132.3 L170.4 132.0 L170.7 131.7 L171.0 131.5 L171.3 131.2 L171.6 130.9 L171.9 130.6 L172.2 130.3 L172.6 130.0 L172.9 129.7 L173.2 129.4 L173.5 129.1 L173.8 128.8 L174.1 128.5 L174.4 128.2 L174.8 127.8 L175.1 127.5 L175.4 127.2 L175.7 126.9 L176.0 126.6 L176.3 126.3 L176.6 126.0 L177.0 125.6 L177.3 125.3 L177.6 125.0 L177.9 124.7 L178.2 124.3 L178.5 124.0 L178.8 123.7 L179.2 123.3 L179.5 123.0 L179.8 122.7 L180.1 122.3 L180.4 122.0 L180.7 121.7 L181.1 121.3 L181.4 121.0 L181.7 120.7 L182.0 120.3 L182.3 120.0 L182.6 119.6 L182.9 119.3 L183.3 118.9 L183.6 118.6 L183.9 118.2 L184.2 117.9 L184.5 117.5 L184.8 117.2 L185.1 116.8 L185.5 116.5 L185.8 116.1 L186.1 115.8 L186.4 115.4 L186.7 115.0 L187.0 114.7 L187.3 114.3 L187.7 114.0 L188.0 113.6 L188.3 113.2 L188.6 112.9 L188.9 112.5 L189.2 112.2 L189.5 111.8 L189.9 111.4 L190.2 111.1 L190.5 110.7 L190.8 110.3 L191.1 110.0 L191.4 109.6 L191.7 109.2 L192.1 108.9 L192.4 108.5 L192.7 108.1 L193.0 107.8 L193.3 107.4 L193.6 107.0 L193.9 106.6 L194.3 106.3 L194.6 105.9 L194.9 105.5 L195.2 105.2 L195.5 104.8 L195.8 104.4 L196.1 104.1 L196.5 103.7 L196.8 103.3 L197.1 102.9 L197.4 102.6 L197.7 102.2 L198.0 101.8 L198.3 101.5 L198.7 101.1 L199.0 100.7 L199.3 100.4 L199.6 100.0 L199.9 99.6 L200.2 99.3 L200.5 98.9 L200.9 98.6 L201.2 98.2 L201.5 97.8 L201.8 97.5 L202.1 97.1 L202.4 96.8 L202.7 96.4 L203.1 96.0 L203.4 95.7 L203.7 95.3 L204.0 95.0 L204.3 94.6 L204.6 94.3 L204.9 93.9 L205.3 93.6 L205.6 93.3 L205.9 92.9 L206.2 92.6 L206.5 92.2 L206.8 91.9 L207.1 91.6 L207.5 91.2 L207.8 90.9 L208.1 90.6 L208.4 90.2 L208.7 89.9 L209.0 89.6 L209.3 89.3 L209.7 89.0 L210.0 88.7 L210.3 88.3 L210.6 88.0 L210.9 87.7 L211.2 87.4 L211.5 87.1 L211.9 86.8 L212.2 86.5 L212.5 86.2 L212.8 86.0 L213.1 85.7 L213.4 85.4 L213.8 85.1 L214.1 84.8 L214.4 84.6 L214.7 84.3 L215.0 84.0 L215.3 83.8 L215.6 83.5 L216.0 83.3 L216.3 83.0 L216.6 82.8 L216.9 82.6 L217.2 82.3 L217.5 82.1 L217.8 81.9 L218.2 81.7 L218.5 81.4 L218.8 81.2 L219.1 81.0 L219.4 80.8 L219.7 80.6 L220.0 80.4 L220.4 80.3 L220.7 80.1 L221.0 79.9 L221.3 79.7 L221.6 79.6 L221.9 79.4 L222.2 79.3 L222.6 79.1 L222.9 79.0 L223.2 78.8 L223.5 78.7 L223.8 78.6 L224.1 78.5 L224.4 78.4 L224.8 78.2 L225.1 78.2 L225.4 78.1 L225.7 78.0 L226.0 77.9 L226.3 77.8 L226.6 77.8 L227.0 77.7 L227.3 77.6 L227.6 77.6 L227.9 77.5 L228.2 77.5 L228.5 77.5 L228.8 77.5 L229.2 77.5 L229.5 77.4 L229.8 77.4 L230.1 77.5 L230.4 77.5 L230.7 77.5 L231.0 77.5 L231.4 77.6 L231.7 77.6 L232.0 77.7 L232.3 77.7 L232.6 77.8 L232.9 77.9 L233.2 77.9 L233.6 78.0 L233.9 78.1 L234.2 78.2 L234.5 78.3 L234.8 78.5 L235.1 78.6 L235.4 78.7 L235.8 78.9 L236.1 79.0 L236.4 79.2 L236.7 79.3 L237.0 79.5 L237.3 79.7 L237.6 79.9 L238.0 80.1 L238.3 80.3 L238.6 80.5 L238.9 80.7 L239.2 80.9 L239.5 81.1 L239.8 81.4 L240.2 81.6 L240.5 81.9 L240.8 82.2 L241.1 82.4 L241.4 82.7 L241.7 83.0 L242.0 83.3 L242.4 83.6 L242.7 83.9 L243.0 84.2 L243.3 84.5 L243.6 84.9 L243.9 85.2 L244.3 85.5 L244.6 85.9 L244.9 86.2 L245.2 86.6 L245.5 87.0 L245.8 87.4 L246.1 87.8 L246.5 88.1 L246.8 88.5 L247.1 89.0 L247.4 89.4 L247.7 89.8 L248.0 90.2 L248.3 90.6 L248.7 91.1 L249.0 91.5 L249.3 92.0 L249.6 92.4 L249.9 92.9 L250.2 93.4 L250.5 93.9 L250.9 94.4 L251.2 94.8 L251.5 95.3 L251.8 95.8 L252.1 96.3 L252.4 96.9 L252.7 97.4 L253.1 97.9 L253.4 98.4 L253.7 99.0 L254.0 99.5 L254.3 100.1 L254.6 100.6 L254.9 101.2 L255.3 101.7 L255.6 102.3 L255.9 102.9 L256.2 103.5 L256.5 104.0 L256.8 104.6 L257.1 105.2 L257.5 105.8 L257.8 106.4 L258.1 107.0 L258.4 107.6 L258.7 108.3 L259.0 108.9 L259.3 109.5 L259.7 110.1 L260.0 110.7 L260.3 111.4 L260.6 112.0 L260.9 112.7 L261.2 113.3 L261.5 114.0 L261.9 114.6 L262.2 115.3 L262.5 115.9 L262.8 116.6 L263.1 117.2 L263.4 117.9 L263.7 118.6 L264.1 119.2 L264.4 119.9 L264.7 120.6 L265.0 121.3 L265.3 122.0 L265.6 122.6 L265.9 123.3 L266.3 124.0 L266.6 124.7 L266.9 125.4 L267.2 126.1 L267.5 126.8 L267.8 127.5 L268.1 128.2 L268.5 128.9 L268.8 129.6 L269.1 130.3 L269.4 131.0 L269.7 131.7 L270.0 132.4 L270.3 133.2 L270.7 133.9 L271.0 134.6 L271.3 135.3 L271.6 136.0 L271.9 136.7 L272.2 137.5 L272.5 138.2 L272.9 138.9 L273.2 139.6 L273.5 140.3 L273.8 141.1 L274.1 141.8 L274.4 142.5 L274.7 143.2 L275.1 144.0 L275.4 144.7 L275.7 145.4 L276.0 146.1 L276.3 146.9 L276.6 147.6 L277.0 148.3 L277.3 149.1 L277.6 149.8 L277.9 150.5 L278.2 151.2 L278.5 152.0 L278.8 152.7 L279.2 153.4 L279.5 154.2 L279.8 154.9 L280.1 155.6 L280.4 156.3 L280.7 157.1 L281.0 157.8 L281.4 158.5 L281.7 159.2 L282.0 160.0 L282.3 160.7 L282.6 161.4 L282.9 162.1 L283.2 162.9 L283.6 163.6 L283.9 164.3 L284.2 165.0 L284.5 165.7 L284.8 166.5 L285.1 167.2 L285.4 167.9 L285.8 168.6 L286.1 169.3 L286.4 170.1 L286.7 170.8 L287.0 171.5 L287.3 172.2 L287.6 172.9 L288.0 173.6 L288.3 174.3 L288.6 175.1 L288.9 175.8 L289.2 176.5 L289.5 177.2 L289.8 177.9 L290.2 178.6 L290.5 179.3 L290.8 180.0 L291.1 180.7 L291.4 181.4 L291.7 182.1 L292.0 182.8 L292.4 183.5 L292.7 184.2 L293.0 184.9 L293.3 185.6 L293.6 186.3 L293.9 187.0 L294.2 187.7 L294.6 188.4 L294.9 189.0 L295.2 189.7 L295.5 190.4 L295.8 191.1 L296.1 191.8 L296.4 192.5 L296.8 193.2 L297.1 193.8 L297.4 194.5 L297.7 195.2 L298.0 195.9 L298.3 196.5 L298.6 197.2 L299.0 197.9 L299.3 198.6 L299.6 199.2 L299.9 199.9 L300.2 200.6 L300.5 201.2 L300.8 201.9 L301.2 202.6 L301.5 203.2 L301.8 203.9 L302.1 204.5 L302.4 205.2 L302.7 205.8 L303.0 206.5 L303.4 207.2 L303.7 207.8 L304.0 208.5 L304.3 209.1 L304.6 209.7 L304.9 210.4 L305.2 211.0 L305.6 211.7 L305.9 212.3 L306.2 213.0 L306.5 213.6 L306.8 214.2 L307.1 214.9 L307.5 215.5 L307.8 216.1 L308.1 216.8 L308.4 217.4 L308.7 218.0 L309.0 218.6 L309.3 219.3 L309.7 219.9 L310.0 220.5 L310.3 221.1 L310.6 221.7 L310.9 222.3 L311.2 223.0 L311.5 223.6 L311.9 224.2 L312.2 224.8 L312.5 225.4 L312.8 226.0 L313.1 226.6 L313.4 227.2 L313.7 227.8 L314.1 228.4 L314.4 229.0 L314.7 229.6 L315.0 230.2 L315.3 230.8 L315.6 231.4 L315.9 232.0 L316.3 232.5 L316.6 233.1 L316.9 233.7 L317.2 234.3 L317.5 234.9 L317.8 235.5 L318.1 236.0 L318.5 236.6 L318.8 237.2 L319.1 237.8 L319.4 238.3 L319.7 238.9 L320.0 239.5 L320.3 240.0 L320.7 240.6 L321.0 241.2 L321.3 241.7 L321.6 242.3 L321.9 242.8 L322.2 243.4 L322.5 244.0 L322.9 244.5 L323.2 245.1 L323.5 245.6 L323.8 246.2 L324.1 246.7 L324.4 247.3 L324.7 247.8 L325.1 248.4 L325.4 248.9 L325.7 249.4 L326.0 250.0 L326.3 250.5 L326.6 251.1 L326.9 251.6 L327.3 252.1 L327.6 252.7 L327.9 253.2 L328.2 253.7 L328.5 254.3 L328.8 254.8 L329.1 255.3 L329.5 255.8 L329.8 256.4 L330.1 256.9 L330.4 257.4 L330.7 257.9 L331.0 258.5 L331.3 259.0 L331.7 259.5 L332.0 260.0 L332.3 260.5 L332.6 261.0 L332.9 261.6 L333.2 262.1 L333.5 262.6 L333.9 263.1 L334.2 263.6 L334.5 264.1 L334.8 264.6 L335.1 265.1 L335.4 265.6 L335.7 266.1 L336.1 266.6 L336.4 267.1 L336.7 267.6 L337.0 268.1 L337.3 268.6 L337.6 269.1 L337.9 269.6 L338.3 270.1 L338.6 270.6 L338.9 271.1 L339.2 271.6 L339.5 272.1 L339.8 272.6 L340.2 273.1 L340.5 273.6 L340.8 274.0 L341.1 274.5 L341.4 275.0 L341.7 275.5 L342.0 276.0 L342.4 276.5 L342.7 277.0 L343.0 277.4 L343.3 277.9 L343.6 278.4 L343.9 278.9 L344.2 279.4 L344.6 279.8 L344.9 280.3 L345.2 280.8 L345.5 281.3 L345.8 281.7 L346.1 282.2 L346.4 282.7 L346.8 283.2 L347.1 283.6 L347.4 284.1 L347.7 284.6 L348.0 285.0 L348.3 285.5 L348.6 286.0 L349.0 286.4 L349.3 286.9 L349.6 287.4 L349.9 287.8 L350.2 288.3 L350.5 288.8 L350.8 289.2 L351.2 289.7 L351.5 290.2 L351.8 290.6 L352.1 291.1 L352.4 291.5 L352.7 292.0 L353.0 292.5 L353.4 292.9 L353.7 293.4 L354.0 293.8 L354.3 294.3 L354.6 294.8 L354.9 295.2 L355.2 295.7 L355.6 296.1 L355.9 296.6 L356.2 297.0 L356.5 297.5 L356.8 298.0 L357.1 298.4 L357.4 298.9 L357.8 299.3 L358.1 299.8 L358.4 300.2 L358.7 300.7 L359.0 301.1 L359.3 301.6 L359.6 302.0 L360.0 302.5 L360.3 302.9 L360.6 303.4 L360.9 303.8 L361.2 304.3 L361.5 304.7 L361.8 305.2 L362.2 305.6 L362.5 306.1 L362.8 306.5 L363.1 307.0 L363.4 307.4 L363.7 307.9 L364.0 308.3 L364.4 308.7 L364.7 309.2 L365.0 309.6 L365.3 310.1 L365.6 310.5 L365.9 311.0 L366.2 311.4 L366.6 311.8 L366.9 312.3 L367.2 312.7 L367.5 313.2 L367.8 313.6 L368.1 314.0 L368.4 314.5 L368.8 314.9 L369.1 315.4 L369.4 315.8 L369.7 316.2 L370.0 316.7 L370.3 317.1 L370.7 317.6 L371.0 318.0 L371.3 318.4 L371.6 318.9 L371.9 319.3 L372.2 319.7 L372.5 320.2 L372.9 320.6 L373.2 321.0 L373.5 321.5 L373.8 321.9 L374.1 322.3 L374.4 322.8 L374.7 323.2 L375.1 323.6 L375.4 324.1 L375.7 324.5 L376.0 324.9 L376.3 325.4 L376.6 325.8 L376.9 326.2 L377.3 326.6 L377.6 327.1 L377.9 327.5 L378.2 327.9 L378.5 328.4 L378.8 328.8 L379.1 329.2 L379.5 329.6 L379.8 330.1 L380.1 330.5 L380.4 330.9 L380.7 331.3 L381.0 331.8 L381.3 332.2 L381.7 332.6 L382.0 333.0 L382.3 333.5 L382.6 333.9 L382.9 334.3 L383.2 334.7 L383.5 335.2 L383.9 335.6 L384.2 336.0 L384.5 336.4 L384.8 336.8 L385.1 337.3 L385.4 337.7 L385.7 338.1 L386.1 338.5 L386.4 338.9 L386.7 339.4 L387.0 339.8 L387.3 340.2 L387.6 340.6 L387.9 341.0 L388.3 341.4 L388.6 341.9 L388.9 342.3 L389.2 342.7 L389.5 343.1 L389.8 343.5 L390.1 343.9 L390.5 344.3 L390.8 344.8 L391.1 345.2 L391.4 345.6 L391.7 346.0 L392.0 346.4 L392.3 346.8 L392.7 347.2 L393.0 347.6 L393.3 348.1 L393.6 348.5 L393.9 348.9 L394.2 349.3 L394.5 349.7 L394.9 350.1 L395.2 350.5 L395.5 350.9 L395.8 351.3 L396.1 351.7 L396.4 352.1 L396.7 352.6 L397.1 353.0 L397.4 353.4 L397.7 353.8 L398.0 354.2 L398.3 354.6 L398.6 355.0 L398.9 355.4 L399.3 355.8 L399.6 356.2 L399.9 356.6 L400.2 357.0 L400.5 357.4 L400.8 357.8 L401.2 358.2 L401.5 358.6 L401.8 359.0 L402.1 359.4 L402.4 359.8 L402.7 360.2 L403.0 360.6 L403.4 361.0 L403.7 361.4 L404.0 361.8 L404.3 362.2 L404.6 362.6 L404.9 363.0 L405.2 363.4 L405.6 363.8 L405.9 364.2 L406.2 364.6 L406.5 365.0 L406.8 365.4 L407.1 365.8 L407.4 366.2 L407.8 366.6 L408.1 367.0 L408.4 367.4 L408.7 367.8 L409.0 368.2 L409.3 368.6 L409.6 368.9 L410.0 369.3 L410.3 369.7 L410.6 370.1 L410.9 370.5 L411.2 370.9 L411.5 371.3 L411.8 371.7 L412.2 372.1 L412.5 372.5 L412.8 372.9 L413.1 373.2 L413.4 373.6 L413.7 374.0 L414.0 374.4 L414.4 374.8 L414.7 375.2 L415.0 375.6 L415.3 376.0 L415.6 376.3 L415.9 376.7 L416.2 377.1 L416.6 377.5 L416.9 377.9 L417.2 378.3 L417.5 378.7 L417.8 379.0 L418.1 379.4 L418.4 379.8 L418.8 380.2 L419.1 380.6 L419.4 381.0 L419.7 381.3 L420.0 381.7 L420.3 382.1 L420.6 382.5 L421.0 382.9 L421.3 383.2 L421.6 383.6 L421.9 384.0 L422.2 384.4 L422.5 384.8 L422.8 385.1 L423.2 385.5 L423.5 385.9 L423.8 386.3 L424.1 386.6 L424.4 387.0 L424.7 387.4 L425.0 387.8 L425.4 388.1 L425.7 388.5 L426.0 388.9 L426.3 389.3 L426.6 389.6 L426.9 390.0"/>
</g>
<path stroke="#00BEFA" stroke-width="2.6" d="M70.4 174.0h.8M71.0 176.4h.8M71.4 166.2h.8M71.9 175.4h.8M72.6 173.5h.8M72.0 167.6h.8M72.8 175.9h.8M73.1 174.1h.8M73.1 170.6h.8M74.0 171.9h.8M74.2 174.5h.8M75.2 170.4h.8M74.7 170.6h.8M75.4 166.6h.8M76.1 174.7h.8M75.8 170.8h.8M76.9 163.5h.8M76.8 160.5h.8M77.2 172.6h.8M77.8 164.1h.8M78.5 169.7h.8M78.8 168.7h.8M79.3 168.2h.8M79.6 165.9h.8M79.7 159.9h.8M80.1 160.3h.8M80.1 162.1h.8M80.7 163.2h.8M81.5 161.2h.8M81.3 161.1h.8M81.7 157.1h.8M82.5 162.0h.8M82.8 159.1h.8M82.8 159.0h.8M83.1 158.3h.8M83.4 156.8h.8M84.7 156.6h.8M84.1 151.8h.8M84.7 157.1h.8M84.9 150.2h.8M85.6 157.3h.8M85.9 157.6h.8M86.7 154.8h.8M87.2 153.3h.8M86.8 153.1h.8M87.3 148.5h.8M88.4 148.6h.8M88.6 150.7h.8M88.7 153.7h.8M89.0 152.3h.8M89.7 145.7h.8M89.5 150.3h.8M90.2 156.2h.8M90.2 153.3h.8M90.9 153.7h.8M91.3 145.0h.8M91.8 149.8h.8M92.0 139.5h.8M92.8 145.8h.8M93.1 147.3h.8M93.4 149.5h.8M93.1 143.1h.8M94.3 147.8h.8M94.8 149.7h.8M94.5 143.3h.8M95.5 145.2h.8M95.0 139.6h.8M96.3 144.4h.8M96.0 155.8h.8M97.0 139.5h.8M97.5 150.4h.8M97.7 135.0h.8M97.3 133.2h.8M98.1 142.4h.8M98.5 145.1h.8M98.8 145.7h.8M99.7 135.4h.8M99.6 139.8h.8M100.2 141.2h.8M100.0 139.4h.8M100.6 128.8h.8M101.1 136.3h.8M101.7 134.3h.8M101.5 133.8h.8M101.9 132.3h.8M102.5 131.7h.8M102.6 139.4h.8M103.7 136.7h.8M104.3 140.5h.8M104.4 138.0h.8M104.1 129.0h.8M105.3 136.3h.8M105.6 133.9h.8M106.1 136.5h.8M105.6 135.8h.8M106.2 129.0h.8M106.5 134.7h.8M106.7 134.8h.8M107.8 129.9h.8M108.4 129.6h.8M108.2 128.0h.8M109.2 130.7h.8M108.8 139.9h.8M109.4 127.8h.8M109.4 128.1h.8M109.9 125.1h.8M110.4 134.0h.8M111.3 116.8h.8M111.5 135.3h.8M112.1 125.1h.8M111.7 128.2h.8M112.9 130.7h.8M112.5 123.7h.8M113.3 129.1h.8M113.7 139.5h.8M113.9 133.3h.8M114.3 124.6h.8M114.4 115.2h.8M115.6 134.7h.8M115.7 126.9h.8M115.5 119.2h.8M116.0 123.7h.8M116.3 129.1h.8M116.8 135.0h.8M117.2 137.2h.8M117.3 131.7h.8M117.7 129.7h.8M118.2 140.4h.8M119.4 137.5h.8M119.7 126.2h.8M119.9 130.3h.8M120.5 132.5h.8M120.8 130.6h.8M121.1 133.2h.8M121.5 123.1h.8M121.2 119.1h.8M122.1 116.7h.8M121.9 123.0h.8M123.0 125.1h.8M122.9 120.9h.8M123.5 119.3h.8M124.1 121.1h.8M124.0 122.9h.8M124.4 134.8h.8M124.5 141.2h.8M124.9 125.7h.8M125.3 132.3h.8M125.7 132.6h.8M126.7 138.6h.8M126.9 142.0h.8M127.3 124.7h.8M127.1 131.7h.8M127.8 142.7h.8M128.5 133.5h.8M128.9 134.7h.8M129.2 133.8h.8M129.1 122.3h.8M130.2 138.4h.8M129.8 147.5h.8M130.6 138.6h.8M131.1 143.7h.8M131.1 135.5h.8M132.0 138.3h.8M132.0 137.7h.8M132.6 144.7h.8M133.1 138.2h.8M132.9 145.4h.8M133.2 138.6h.8M134.3 145.1h.8M134.8 151.5h.8M134.9 140.4h.8M135.2 149.7h.8M135.7 134.6h.8M135.7 142.4h.8M136.7 142.7h.8M136.5 146.0h.8M137.2 147.8h.8M137.3 165.6h.8M137.4 140.2h.8M138.6 156.1h.8M138.4 144.3h.8M138.5 157.1h.8M139.2 154.7h.8M139.4 156.5h.8M140.0 163.6h.8M140.0 158.4h.8M140.8 154.7h.8M141.4 162.3h.8M141.5 169.6h.8M141.9 165.4h.8M141.9 160.2h.8M143.1 154.4h.8M142.6 157.5h.8M143.7 162.6h.8M143.5 173.1h.8M144.2 160.0h.8M144.4 167.7h.8M145.3 171.0h.8M145.6 163.6h.8M145.8 167.1h.8M146.0 169.3h.8M146.8 183.0h.8M147.1 182.5h.8M147.1 189.6h.8M148.0 176.3h.8M148.1 178.6h.8M148.7 172.7h.8M148.8 179.0h.8M148.6 184.3h.8M149.1 166.3h.8M149.4 191.1h.8M150.5 194.3h.8M150.6 189.7h.8M151.3 182.0h.8M151.6 189.9h.8M151.9 191.8h.8M152.4 198.5h.8M152.4 174.3h.8M153.1 197.7h.8M153.4 202.9h.8M154.1 197.0h.8M154.0 204.0h.8M154.7 201.0h.8M154.8 190.3h.8M155.0 205.6h.8M155.2 203.9h.8M155.5 207.7h.8M155.9 207.6h.8M157.1 200.9h.8M157.2 204.4h.8M157.6 212.5h.8M158.0 218.3h.8M158.1 213.3h.8M158.2 206.9h.8M158.8 214.8h.8M159.3 216.8h.8M159.4 231.3h.8M160.3 210.2h.8M160.9 231.2h.8M160.6 230.7h.8M160.8 224.8h.8M162.0 222.8h.8M161.5 224.1h.8M161.8 231.9h.8M163.2 229.6h.8M162.9 233.2h.8M163.5 244.1h.8M164.1 232.6h.8M163.8 237.2h.8M164.2 227.5h.8M165.0 235.0h.8M165.5 227.0h.8M165.9 230.4h.8M166.1 230.0h.8M166.1 228.7h.8M167.3 234.2h.8M167.3 242.6h.8M167.8 231.2h.8M167.5 251.5h.8M168.1 245.3h.8M168.8 239.0h.8M169.0 249.9h.8M169.4 242.7h.8M169.8 256.7h.8M170.0 255.7h.8M170.3 247.5h.8M171.1 247.0h.8M171.5 243.7h.8M171.9 255.4h.8M172.4 253.1h.8M172.4 251.1h.8M172.8 253.4h.8M173.6 269.9h.8M173.8 264.7h.8M173.6 248.5h.8M174.7 273.5h.8M174.3 258.6h.8M175.1 269.4h.8M175.8 258.3h.8M176.3 275.4h.8M175.8 269.4h.8M176.7 288.9h.8M177.4 272.3h.8M177.4 263.2h.8M177.7 287.1h.8M178.2 263.8h.8M179.0 281.7h.8M178.8 276.5h.8M179.1 301.9h.8M179.8 267.8h.8M179.9 286.4h.8M180.3 284.2h.8M180.6 291.8h.8M181.0 290.2h.8M181.1 271.6h.8M181.5 287.8h.8M182.3 275.9h.8M182.4 286.9h.8M183.0 283.2h.8M182.9 292.3h.8M183.4 284.9h.8M183.8 266.0h.8M185.0 285.4h.8M184.5 288.2h.8M185.1 298.8h.8M186.0 281.5h.8M186.2 284.3h.8M186.4 322.5h.8M186.6 312.6h.8M186.7 280.7h.8M187.4 297.7h.8M187.7 301.7h.8M188.8 298.7h.8M188.5 294.9h.8M188.8 299.1h.8M189.6 310.3h.8M189.5 289.6h.8M190.6 310.9h.8M190.2 320.8h.8M190.9 319.0h.8M191.8 316.0h.8M191.3 321.3h.8M192.2 318.5h.8M192.4 314.5h.8M192.4 350.8h.8M193.5 326.9h.8M193.3 310.5h.8M193.6 314.9h.8M194.8 327.8h.8M194.8 331.0h.8M194.7 311.0h.8M195.6 325.6h.8M196.0 329.4h.8M196.2 306.6h.8M197.0 330.2h.8M197.3 320.9h.8M197.2 329.5h.8M198.2 329.7h.8M197.8 340.9h.8M198.5 340.7h.8M198.9 320.3h.8M199.6 345.6h.8M200.0 331.9h.8M200.2 347.9h.8M200.1 338.9h.8M200.6 337.7h.8M201.0 355.1h.8M202.0 327.4h.8M201.7 341.9h.8M202.4 328.3h.8M202.7 351.6h.8M202.9 333.4h.8M203.3 319.5h.8M203.3 342.9h.8M204.1 353.2h.8M204.3 340.1h.8M204.9 347.5h.8M205.5 352.4h.8M205.4 352.6h.8M205.7 358.4h.8M206.6 348.6h.8M206.4 358.0h.8M207.0 363.8h.8M207.7 346.6h.8M208.4 357.8h.8M208.3 328.2h.8M208.3 360.0h.8M209.4 365.8h.8M209.4 364.8h.8M209.8 355.6h.8M210.6 368.0h.8M210.6 375.1h.8M211.0 344.3h.8M211.5 376.6h.8M211.7 347.4h.8M212.2 363.3h.8M212.2 377.4h.8M213.0 348.3h.8M213.5 369.8h.8M213.6 379.6h.8M213.5 368.7h.8M214.3 356.0h.8M214.6 363.6h.8M215.5 362.7h.8M215.9 353.0h.8M216.0 370.8h.8M216.4 369.6h.8M216.5 376.8h.8M217.7 376.8h.8M217.9 357.3h.8M219.0 361.3h.8M218.7 374.1h.8M219.8 377.5h.8M219.9 358.6h.8M220.9 386.3h.8M220.6 371.5h.8M221.3 368.6h.8M222.2 376.8h.8M222.3 379.3h.8M222.6 380.2h.8M227.4 384.1h.8M229.1 382.1h.8M230.5 387.4h.8M234.8 385.5h.8"/><path stroke="#1464FA" stroke-width="2.6" d="M70.6 174.1h.8M71.3 171.0h.8M71.2 168.4h.8M71.9 167.2h.8M71.8 165.5h.8M72.0 170.6h.8M73.0 166.4h.8M72.8 168.1h.8M73.5 161.2h.8M74.1 162.4h.8M74.6 164.9h.8M74.8 169.0h.8M74.9 177.8h.8M75.4 161.1h.8M75.7 173.0h.8M76.8 171.9h.8M76.1 164.6h.8M76.9 160.2h.8M77.9 166.8h.8M77.8 167.5h.8M78.1 167.6h.8M78.7 162.9h.8M79.3 162.9h.8M78.8 161.5h.8M79.8 171.4h.8M79.9 155.1h.8M80.3 167.7h.8M81.0 165.2h.8M81.4 161.2h.8M81.9 158.7h.8M81.9 163.3h.8M82.7 169.3h.8M82.3 158.5h.8M82.7 161.9h.8M83.0 160.7h.8M84.0 163.0h.8M84.4 159.5h.8M84.4 156.1h.8M84.5 160.0h.8M85.0 159.3h.8M85.7 164.7h.8M86.4 160.4h.8M86.8 165.3h.8M87.3 170.8h.8M87.1 160.6h.8M87.9 163.0h.8M88.2 164.2h.8M88.5 165.4h.8M89.0 157.3h.8M89.0 161.2h.8M89.7 150.5h.8M90.0 167.1h.8M90.2 151.7h.8M90.4 159.9h.8M90.6 155.6h.8M91.5 158.8h.8M92.0 156.6h.8M92.3 150.8h.8M92.6 152.8h.8M93.1 160.3h.8M92.8 154.4h.8M93.8 159.3h.8M94.2 167.1h.8M93.9 158.1h.8M94.3 152.8h.8M95.1 146.0h.8M95.3 146.0h.8M96.1 160.4h.8M95.8 161.8h.8M96.2 165.4h.8M97.4 157.6h.8M97.4 163.1h.8M97.6 142.3h.8M97.7 153.2h.8M98.7 145.6h.8M98.8 147.2h.8M99.2 149.6h.8M99.3 145.9h.8M100.3 139.8h.8M100.5 142.0h.8M101.2 138.9h.8M101.5 153.0h.8M101.9 150.9h.8M101.5 149.0h.8M101.9 142.5h.8M102.6 154.6h.8M102.7 146.3h.8M103.3 148.2h.8M103.6 150.5h.8M104.1 147.5h.8M104.2 151.1h.8M105.1 148.5h.8M104.9 150.0h.8M106.0 154.6h.8M106.5 138.0h.8M106.9 160.5h.8M107.1 144.2h.8M107.3 147.7h.8M107.6 140.4h.8M107.9 143.8h.8M108.0 147.7h.8M108.5 138.6h.8M109.3 148.7h.8M109.3 150.9h.8M109.8 145.3h.8M110.0 145.8h.8M111.0 149.9h.8M110.5 137.6h.8M111.4 128.9h.8M111.9 140.8h.8M112.3 152.6h.8M112.7 152.4h.8M112.5 147.4h.8M113.2 144.0h.8M113.3 150.0h.8M114.0 139.5h.8M114.0 147.4h.8M114.9 140.0h.8M115.5 143.2h.8M115.0 134.9h.8M116.1 148.2h.8M116.5 129.1h.8M116.7 145.6h.8M116.9 139.9h.8M117.0 143.3h.8M117.5 143.2h.8M118.2 150.0h.8M118.2 142.5h.8M119.2 135.4h.8M119.4 144.9h.8M120.0 137.7h.8M120.1 135.6h.8M120.0 139.7h.8M120.8 153.0h.8M121.5 146.5h.8M121.1 131.2h.8M122.1 134.2h.8M122.3 136.1h.8M123.0 132.3h.8M123.1 141.5h.8M123.2 127.8h.8M123.6 130.0h.8M124.4 138.9h.8M124.9 132.1h.8M125.2 136.1h.8M125.5 134.0h.8M125.4 123.7h.8M126.4 132.6h.8M126.4 140.3h.8M126.4 118.1h.8M127.4 125.6h.8M128.1 112.7h.8M127.7 128.6h.8M128.2 133.4h.8M129.1 129.1h.8M128.9 115.1h.8M129.3 113.4h.8M130.1 115.8h.8M130.5 117.7h.8M130.6 118.9h.8M130.8 114.7h.8M131.6 127.2h.8M132.2 120.0h.8M132.5 122.5h.8M132.6 113.7h.8M132.4 108.4h.8M132.9 122.6h.8M133.2 142.9h.8M134.4 123.1h.8M134.3 127.7h.8M135.1 122.4h.8M135.2 109.3h.8M135.3 121.6h.8M135.6 129.5h.8M136.3 107.3h.8M136.4 107.8h.8M137.4 96.2h.8M137.8 108.7h.8M138.1 114.1h.8M138.0 98.6h.8M138.6 113.7h.8M138.4 109.9h.8M139.3 106.9h.8M139.3 116.6h.8M140.2 83.8h.8M140.0 119.6h.8M140.7 118.4h.8M141.0 98.3h.8M141.1 96.9h.8M141.5 99.4h.8M142.4 102.0h.8M142.7 88.2h.8M143.5 107.8h.8M143.1 90.9h.8M144.1 89.0h.8M144.7 94.8h.8M144.5 101.5h.8M144.6 93.8h.8M145.0 103.9h.8M146.0 89.2h.8M145.8 93.4h.8M146.6 98.5h.8M147.1 94.7h.8M147.3 97.8h.8M147.2 79.8h.8M148.2 84.7h.8M148.2 107.8h.8M148.9 95.9h.8M149.5 84.9h.8M150.0 91.9h.8M149.4 86.4h.8M150.6 93.4h.8M150.3 96.0h.8M151.3 84.5h.8M151.1 102.1h.8M151.4 101.0h.8M152.0 67.2h.8M152.9 92.2h.8M152.4 80.1h.8M152.9 89.0h.8M153.9 81.8h.8M153.6 90.1h.8M154.6 93.3h.8M155.0 85.0h.8M155.3 92.6h.8M155.9 88.1h.8M155.9 95.8h.8M155.8 83.0h.8M156.3 108.8h.8M157.0 95.6h.8M157.5 97.8h.8M157.4 90.3h.8M157.7 80.6h.8M158.9 82.7h.8M158.8 90.5h.8M159.7 83.2h.8M159.7 92.2h.8M159.8 96.3h.8M160.9 96.1h.8M161.1 101.4h.8M161.2 96.2h.8M161.7 83.1h.8M162.0 104.5h.8M162.5 87.2h.8M162.6 89.6h.8M162.6 86.0h.8M163.7 96.6h.8M164.2 102.5h.8M164.0 94.0h.8M164.5 101.1h.8M164.9 87.3h.8M165.7 90.5h.8M166.2 94.8h.8M166.6 95.6h.8M166.1 102.0h.8M166.8 82.4h.8M167.4 108.5h.8M167.2 104.6h.8M167.8 108.0h.8M168.2 105.9h.8M168.6 95.8h.8M168.7 94.0h.8M169.4 100.8h.8M169.6 110.1h.8M169.9 130.1h.8M170.2 100.8h.8M170.9 107.7h.8M171.6 105.6h.8M171.4 103.8h.8M172.2 100.5h.8M172.4 109.8h.8M172.6 103.8h.8M172.9 121.3h.8M174.1 105.7h.8M173.9 118.8h.8M174.7 111.4h.8M174.7 114.0h.8M175.2 112.5h.8M175.6 101.5h.8M175.8 111.4h.8M176.5 118.9h.8M176.7 122.7h.8M176.5 129.8h.8M177.2 116.6h.8M177.5 129.9h.8M177.8 115.2h.8M178.8 120.8h.8M179.1 128.2h.8M178.9 120.5h.8M179.5 132.1h.8M180.0 132.1h.8M180.0 127.9h.8M180.8 132.1h.8M181.4 120.1h.8M181.7 126.6h.8M181.6 139.4h.8M181.9 120.1h.8M183.0 132.7h.8M182.7 129.8h.8M183.2 135.6h.8M183.6 126.8h.8M183.8 133.7h.8M184.8 130.3h.8M184.6 140.9h.8M185.5 145.3h.8M185.2 138.8h.8M186.4 156.0h.8M186.1 163.1h.8M186.8 150.8h.8M187.2 148.4h.8M187.3 143.3h.8M187.9 145.2h.8M188.4 152.8h.8M188.3 140.2h.8M189.3 147.4h.8M189.0 148.4h.8M190.3 139.3h.8M190.0 157.0h.8M190.1 148.9h.8M191.3 173.1h.8M191.7 174.6h.8M191.3 159.9h.8M192.1 167.2h.8M192.9 165.2h.8M193.3 166.6h.8M193.4 173.0h.8M193.3 177.5h.8M194.2 169.2h.8M194.1 181.6h.8M194.7 177.6h.8M195.2 175.3h.8M195.4 184.2h.8M195.5 184.4h.8M196.0 172.3h.8M196.7 167.3h.8M197.1 180.5h.8M197.8 184.7h.8M197.5 169.4h.8M198.1 196.4h.8M198.2 185.0h.8M199.3 177.4h.8M199.5 193.6h.8M199.9 173.4h.8M200.0 170.3h.8M200.0 201.8h.8M201.3 195.4h.8M201.3 197.0h.8M201.6 215.1h.8M201.9 169.9h.8M202.7 189.9h.8M202.9 214.3h.8M202.9 229.1h.8M203.2 218.7h.8M203.8 202.4h.8M204.4 197.3h.8M204.6 207.5h.8M204.9 211.6h.8M205.2 209.1h.8M205.7 217.6h.8M206.4 231.8h.8M206.0 235.6h.8M206.6 218.0h.8M207.2 228.3h.8M207.3 228.9h.8M207.9 216.7h.8M208.7 228.5h.8M209.0 223.7h.8M209.1 262.0h.8M209.5 232.0h.8M209.5 217.9h.8M210.4 226.2h.8M210.3 227.9h.8M210.5 230.8h.8M211.7 229.3h.8M211.3 223.8h.8M212.0 246.7h.8M213.0 233.7h.8M213.2 235.2h.8M213.0 233.8h.8M213.4 221.0h.8M213.5 247.6h.8M213.9 249.9h.8M214.3 221.1h.8M215.1 250.8h.8M215.8 241.6h.8M215.8 251.7h.8M216.5 251.4h.8M216.4 234.3h.8M216.6 248.4h.8M217.7 239.7h.8M217.6 254.5h.8M218.1 229.8h.8M218.2 250.8h.8M218.8 246.9h.8M219.1 262.0h.8M219.8 261.6h.8M219.6 236.7h.8M220.1 255.7h.8M220.8 262.3h.8M221.5 249.1h.8M221.7 264.5h.8M221.8 254.1h.8M222.7 270.4h.8M222.9 262.8h.8M222.9 259.6h.8M223.1 270.6h.8M223.7 273.0h.8M224.0 247.6h.8M224.2 252.9h.8M224.5 283.6h.8M225.4 245.7h.8M225.5 270.5h.8M225.9 274.1h.8M226.7 285.8h.8M226.4 266.3h.8M227.4 262.6h.8M227.5 275.8h.8M227.6 268.5h.8M228.7 294.0h.8M228.5 274.3h.8M228.8 282.3h.8M229.3 280.7h.8M230.1 270.9h.8M229.9 267.8h.8M230.9 277.8h.8M230.6 258.2h.8M231.0 275.6h.8M232.1 263.3h.8M232.1 281.6h.8M232.8 267.5h.8M233.3 298.9h.8M233.3 277.7h.8M233.2 290.8h.8M234.4 296.9h.8M234.3 328.5h.8M234.6 315.9h.8M234.7 278.9h.8M235.7 301.6h.8M236.3 282.7h.8M236.1 280.9h.8M236.3 300.1h.8M236.7 302.2h.8M237.1 300.9h.8M238.0 293.1h.8M237.7 305.3h.8M238.8 294.9h.8M239.1 312.9h.8M239.0 274.0h.8M239.8 294.6h.8M240.2 318.2h.8M240.7 299.0h.8M240.5 296.6h.8M241.3 302.3h.8M241.2 326.0h.8M242.3 310.5h.8M242.4 300.5h.8M242.9 290.3h.8M242.9 303.9h.8M243.6 290.1h.8M244.0 325.6h.8M244.4 313.7h.8M244.3 309.3h.8M245.1 291.4h.8M245.8 328.2h.8M246.1 329.3h.8M245.8 316.3h.8M246.8 315.5h.8M246.5 324.8h.8M247.7 330.2h.8M247.8 323.1h.8M248.3 318.6h.8M248.6 349.0h.8M248.6 332.0h.8M249.5 298.3h.8M249.2 314.8h.8M250.0 338.2h.8M250.7 313.2h.8M250.5 349.3h.8M250.8 336.9h.8M251.4 330.0h.8M251.8 344.1h.8M252.1 323.5h.8M252.4 337.3h.8M253.3 324.7h.8M253.1 346.2h.8M254.0 340.3h.8M253.7 304.6h.8M254.4 346.5h.8M254.8 353.0h.8M254.8 331.5h.8M255.3 344.0h.8M255.8 326.8h.8M255.9 328.9h.8M256.4 334.7h.8M256.9 338.5h.8M257.7 335.3h.8M257.6 355.0h.8M257.8 337.4h.8M258.6 323.6h.8M259.4 338.3h.8M259.3 334.6h.8M260.1 328.5h.8M260.4 363.1h.8M260.8 341.3h.8M260.8 362.7h.8M261.2 342.2h.8M261.1 361.3h.8M261.6 347.6h.8M262.0 366.5h.8M262.5 346.4h.8M263.3 333.5h.8M263.4 347.2h.8M263.7 344.0h.8M264.4 359.5h.8M264.1 380.9h.8M264.5 332.9h.8M265.6 335.1h.8M265.4 352.7h.8M265.7 382.4h.8M266.8 367.6h.8M266.6 360.7h.8M267.6 336.1h.8M267.7 383.2h.8M267.5 387.3h.8M268.7 378.3h.8M268.6 360.3h.8M269.6 369.0h.8M269.1 387.4h.8M269.4 381.0h.8M270.2 354.9h.8M271.0 339.9h.8M270.5 363.9h.8M271.3 350.6h.8M271.6 378.4h.8M272.3 385.6h.8M272.7 386.0h.8M272.5 356.8h.8M273.3 376.8h.8M274.2 358.1h.8M274.9 363.7h.8M275.0 374.4h.8M275.3 360.4h.8M275.9 385.6h.8M275.5 356.2h.8M275.9 379.0h.8M277.0 362.8h.8M276.9 356.1h.8M277.3 371.8h.8M278.2 378.6h.8M279.1 387.2h.8M279.5 377.4h.8M279.4 380.2h.8M279.7 372.4h.8M280.7 385.6h.8M280.9 378.2h.8M281.2 379.4h.8M284.2 383.6h.8M284.4 379.5h.8M284.8 383.1h.8M285.3 364.7h.8M285.3 383.5h.8M286.6 378.1h.8M288.6 369.0h.8M289.3 385.0h.8M289.7 380.4h.8M291.3 379.2h.8M297.9 385.2h.8M302.1 372.3h.8"/><path stroke="#9614E1" stroke-width="2.6" d="M70.5 171.7h.8M70.6 176.4h.8M71.3 169.4h.8M72.0 169.5h.8M72.0 173.2h.8M72.9 168.0h.8M72.8 168.9h.8M73.7 169.9h.8M73.8 173.9h.8M74.2 168.9h.8M74.1 173.4h.8M75.0 170.4h.8M75.5 171.9h.8M75.8 171.0h.8M75.8 169.6h.8M76.4 170.4h.8M76.4 167.2h.8M76.6 172.4h.8M77.4 169.2h.8M78.1 172.6h.8M77.9 171.0h.8M78.9 172.8h.8M79.1 168.4h.8M79.1 167.9h.8M80.1 174.2h.8M79.9 169.5h.8M80.8 173.7h.8M80.9 168.0h.8M81.2 174.2h.8M81.9 169.7h.8M82.1 162.5h.8M82.1 169.2h.8M82.8 173.0h.8M83.5 169.0h.8M83.3 167.2h.8M83.7 170.0h.8M84.2 168.5h.8M85.0 165.0h.8M84.8 175.1h.8M85.0 169.3h.8M85.3 171.7h.8M86.3 176.9h.8M86.2 168.8h.8M86.8 174.0h.8M87.6 173.8h.8M87.2 167.5h.8M87.8 170.0h.8M88.1 177.3h.8M88.6 164.7h.8M88.7 172.7h.8M89.0 168.6h.8M89.5 165.9h.8M90.4 166.6h.8M90.4 174.2h.8M90.8 170.4h.8M91.7 163.5h.8M91.3 170.9h.8M91.9 179.9h.8M92.4 170.6h.8M93.4 169.2h.8M93.5 170.6h.8M93.8 170.6h.8M93.8 173.8h.8M94.6 173.0h.8M94.9 167.6h.8M95.0 176.5h.8M95.2 172.6h.8M96.2 165.7h.8M96.2 170.6h.8M97.0 172.4h.8M97.3 165.5h.8M97.8 167.3h.8M98.1 171.5h.8M98.2 179.1h.8M98.1 173.2h.8M98.9 171.3h.8M99.3 171.0h.8M100.0 175.0h.8M100.5 171.9h.8M100.3 171.2h.8M101.2 170.2h.8M101.2 169.9h.8M101.1 161.9h.8M101.8 171.6h.8M102.2 166.3h.8M102.3 165.5h.8M102.8 167.1h.8M103.5 166.0h.8M103.7 169.5h.8M103.8 164.2h.8M105.0 160.8h.8M104.5 162.2h.8M105.0 175.7h.8M106.0 174.8h.8M105.7 162.5h.8M106.4 164.8h.8M107.0 173.2h.8M107.2 171.7h.8M107.9 162.7h.8M107.8 166.6h.8M108.8 170.3h.8M109.1 167.4h.8M108.9 169.8h.8M109.7 172.0h.8M109.9 165.6h.8M110.3 163.8h.8M110.2 162.4h.8M111.3 160.0h.8M111.3 163.1h.8M111.9 169.3h.8M111.9 166.7h.8M112.0 164.8h.8M112.4 167.5h.8M113.0 163.9h.8M113.4 158.1h.8M114.0 163.6h.8M114.4 161.7h.8M114.9 161.2h.8M114.9 164.7h.8M115.2 163.3h.8M116.3 165.5h.8M116.8 165.0h.8M116.5 165.8h.8M116.7 158.5h.8M117.4 159.5h.8M117.3 156.7h.8M118.6 163.5h.8M119.0 151.3h.8M119.1 152.7h.8M119.3 163.2h.8M119.9 164.9h.8M120.2 156.9h.8M120.6 161.2h.8M120.8 162.3h.8M121.5 155.2h.8M121.9 166.4h.8M122.2 151.9h.8M122.3 144.9h.8M122.3 157.5h.8M123.3 162.7h.8M123.6 157.7h.8M124.0 161.6h.8M124.3 154.4h.8M124.3 158.2h.8M125.3 154.8h.8M125.8 157.8h.8M125.6 155.4h.8M126.5 160.6h.8M126.1 152.5h.8M126.6 159.4h.8M127.1 150.2h.8M127.3 152.7h.8M127.6 143.7h.8M128.4 157.7h.8M129.1 147.2h.8M129.6 152.5h.8M129.6 152.0h.8M130.2 146.6h.8M130.4 149.8h.8M130.1 148.7h.8M131.1 142.1h.8M131.1 154.9h.8M131.9 153.3h.8M132.2 156.5h.8M132.8 141.8h.8M132.9 151.5h.8M133.7 147.8h.8M133.9 156.5h.8M133.6 148.8h.8M134.2 140.7h.8M135.1 144.6h.8M135.4 149.8h.8M135.8 141.7h.8M135.7 137.9h.8M136.4 145.1h.8M137.0 150.7h.8M136.6 140.0h.8M137.4 155.2h.8M137.8 147.5h.8M138.2 136.4h.8M139.0 147.9h.8M138.7 134.2h.8M139.3 151.9h.8M139.3 137.3h.8M140.1 137.6h.8M140.1 148.7h.8M140.4 149.0h.8M141.3 140.2h.8M141.5 149.7h.8M141.5 138.1h.8M141.9 144.1h.8M142.7 143.6h.8M142.9 129.8h.8M143.3 134.9h.8M144.1 144.0h.8M144.5 141.0h.8M144.5 140.2h.8M144.5 132.9h.8M145.5 135.4h.8M145.8 133.6h.8M146.4 138.7h.8M146.3 127.6h.8M146.6 138.9h.8M146.7 140.2h.8M147.3 123.0h.8M148.4 135.0h.8M148.7 125.7h.8M148.8 127.9h.8M149.3 130.4h.8M149.7 129.0h.8M150.0 141.8h.8M149.8 140.3h.8M150.7 119.1h.8M151.2 124.6h.8M151.0 139.8h.8M152.0 131.6h.8M152.3 143.3h.8M152.7 141.5h.8M152.8 131.1h.8M153.5 127.6h.8M153.9 125.8h.8M153.5 131.6h.8M154.1 123.8h.8M155.0 138.2h.8M155.0 131.4h.8M155.8 135.0h.8M156.2 134.5h.8M156.4 126.1h.8M157.1 146.4h.8M156.5 116.4h.8M157.7 144.2h.8M157.8 162.0h.8M158.5 128.4h.8M158.4 134.7h.8M159.0 135.2h.8M159.1 119.5h.8M160.0 124.7h.8M159.6 115.0h.8M160.7 119.0h.8M161.1 127.0h.8M161.0 129.8h.8M161.6 116.7h.8M161.5 112.9h.8M162.7 100.9h.8M162.9 117.5h.8M163.0 113.8h.8M163.7 128.6h.8M163.7 120.1h.8M164.2 118.1h.8M164.7 107.3h.8M164.7 124.5h.8M165.2 120.3h.8M165.5 110.5h.8M166.1 116.6h.8M166.4 118.2h.8M166.8 114.2h.8M167.6 106.2h.8M167.2 111.6h.8M168.0 108.3h.8M168.7 117.3h.8M169.2 114.3h.8M169.4 110.2h.8M169.7 97.3h.8M170.3 99.2h.8M170.3 121.8h.8M171.1 98.3h.8M170.9 124.2h.8M171.5 128.1h.8M171.3 102.8h.8M172.1 108.3h.8M172.4 97.3h.8M172.5 100.2h.8M173.2 106.2h.8M173.7 101.1h.8M173.8 104.1h.8M174.7 103.8h.8M174.6 108.8h.8M175.3 108.1h.8M175.4 103.0h.8M175.6 117.0h.8M176.7 103.7h.8M176.4 93.6h.8M176.8 103.1h.8M177.3 103.4h.8M178.3 99.6h.8M178.5 88.8h.8M178.7 125.2h.8M179.0 120.2h.8M179.4 91.7h.8M179.2 86.0h.8M180.3 104.5h.8M180.1 110.1h.8M180.8 86.0h.8M181.3 115.5h.8M181.8 118.8h.8M182.3 94.6h.8M182.0 125.6h.8M182.9 118.9h.8M183.2 112.2h.8M183.5 86.2h.8M183.9 99.2h.8M183.7 102.0h.8M184.1 101.2h.8M184.8 89.5h.8M185.6 105.1h.8M185.8 110.0h.8M186.4 97.8h.8M186.3 94.0h.8M186.9 96.8h.8M187.6 91.2h.8M187.9 117.0h.8M188.2 110.7h.8M188.6 67.1h.8M188.7 103.5h.8M188.9 94.0h.8M189.2 84.1h.8M189.6 90.4h.8M190.1 97.8h.8M190.3 85.1h.8M191.4 89.1h.8M191.1 94.8h.8M191.4 100.9h.8M192.5 94.4h.8M192.4 87.0h.8M192.5 94.8h.8M193.2 87.1h.8M193.9 92.6h.8M194.2 95.6h.8M194.4 93.4h.8M194.6 110.6h.8M194.8 72.9h.8M195.9 77.1h.8M196.1 78.4h.8M195.9 73.2h.8M196.3 87.0h.8M196.8 96.5h.8M197.4 83.6h.8M198.2 86.2h.8M197.9 78.3h.8M198.7 78.3h.8M199.1 91.3h.8M199.4 86.7h.8M199.4 124.0h.8M200.5 133.5h.8M200.0 72.8h.8M201.3 73.4h.8M201.4 101.7h.8M201.3 86.6h.8M202.3 102.6h.8M201.9 96.4h.8M202.6 87.3h.8M203.5 81.2h.8M203.0 88.1h.8M203.9 114.6h.8M203.8 87.6h.8M204.2 84.5h.8M205.3 95.0h.8M205.7 93.2h.8M205.8 89.2h.8M205.7 89.1h.8M206.2 109.6h.8M206.7 99.5h.8M207.7 97.1h.8M207.6 85.1h.8M208.2 107.8h.8M207.9 87.5h.8M208.6 90.7h.8M209.3 101.3h.8M209.1 106.5h.8M209.6 93.9h.8M210.4 87.2h.8M210.7 89.3h.8M211.5 87.3h.8M211.7 116.2h.8M211.5 100.8h.8M212.5 103.7h.8M213.0 84.4h.8M213.1 113.9h.8M212.8 81.7h.8M213.5 125.0h.8M214.4 115.9h.8M214.6 117.2h.8M214.7 109.4h.8M215.1 104.6h.8M215.7 107.3h.8M215.6 96.4h.8M215.8 104.4h.8M216.8 112.6h.8M217.0 125.1h.8M217.6 119.2h.8M218.0 120.3h.8M218.5 127.2h.8M218.9 93.7h.8M218.5 119.3h.8M219.8 109.8h.8M220.0 97.8h.8M219.7 106.1h.8M220.1 103.9h.8M220.9 125.7h.8M220.8 123.0h.8M221.1 93.3h.8M222.3 121.4h.8M222.4 118.6h.8M222.3 106.1h.8M222.9 105.1h.8M223.8 109.3h.8M224.3 134.0h.8M224.0 122.5h.8M224.2 147.9h.8M225.4 103.3h.8M225.5 130.3h.8M226.1 126.4h.8M225.6 126.0h.8M226.9 115.8h.8M226.5 124.8h.8M227.7 122.4h.8M227.2 135.1h.8M228.1 138.2h.8M228.2 147.2h.8M228.8 126.3h.8M228.8 143.4h.8M229.2 147.0h.8M229.7 136.2h.8M230.1 134.6h.8M230.2 140.1h.8M230.8 153.1h.8M231.5 133.1h.8M232.2 130.2h.8M232.0 142.6h.8M232.1 128.8h.8M232.5 145.3h.8M233.2 144.4h.8M233.8 141.0h.8M234.2 146.3h.8M234.7 148.0h.8M235.0 156.8h.8M235.4 147.3h.8M235.4 132.4h.8M236.2 145.4h.8M236.1 150.0h.8M236.8 140.9h.8M237.1 154.0h.8M237.8 163.4h.8M237.9 138.1h.8M237.8 158.3h.8M238.0 130.0h.8M238.8 155.3h.8M239.5 148.1h.8M240.1 169.4h.8M240.5 141.6h.8M240.0 168.9h.8M240.4 173.6h.8M241.5 144.0h.8M241.3 172.1h.8M242.4 174.9h.8M242.0 163.8h.8M242.8 171.6h.8M243.4 149.6h.8M243.7 140.2h.8M243.6 135.1h.8M244.1 148.3h.8M244.6 172.3h.8M244.8 169.8h.8M245.0 140.8h.8M245.3 165.3h.8M246.1 186.8h.8M246.7 161.1h.8M247.2 162.1h.8M247.2 162.5h.8M247.9 150.0h.8M248.4 175.4h.8M248.4 185.3h.8M248.3 183.1h.8M249.1 203.4h.8M249.4 168.3h.8M250.1 175.3h.8M250.2 182.9h.8M250.8 205.1h.8M251.3 163.9h.8M251.0 172.7h.8M252.0 172.1h.8M252.3 207.5h.8M252.5 190.4h.8M252.4 180.3h.8M253.2 190.0h.8M253.6 191.0h.8M254.2 174.5h.8M254.0 181.4h.8M254.7 181.5h.8M255.4 201.2h.8M255.2 204.0h.8M256.4 185.3h.8M255.9 207.3h.8M256.2 182.0h.8M256.6 189.4h.8M257.2 189.3h.8M257.8 207.5h.8M258.0 218.5h.8M258.8 221.3h.8M258.7 206.7h.8M259.7 172.2h.8M259.8 214.9h.8M260.4 185.8h.8M260.4 203.9h.8M260.4 207.2h.8M260.8 189.4h.8M261.6 197.8h.8M261.8 212.3h.8M262.1 180.5h.8M262.8 204.6h.8M263.3 187.1h.8M263.3 210.5h.8M264.1 188.3h.8M263.7 216.8h.8M264.8 198.5h.8M264.9 204.2h.8M265.3 188.7h.8M265.8 200.4h.8M266.3 199.0h.8M266.5 227.7h.8M267.1 211.0h.8M267.0 229.2h.8M267.6 218.9h.8M268.1 201.8h.8M268.7 226.9h.8M268.3 200.6h.8M268.6 205.6h.8M269.4 226.0h.8M270.3 202.8h.8M270.0 232.1h.8M270.8 217.6h.8M270.6 197.4h.8M271.1 229.7h.8M271.9 233.2h.8M272.0 223.6h.8M272.4 202.4h.8M272.7 247.3h.8M273.7 250.1h.8M273.5 213.9h.8M274.1 219.3h.8M274.9 215.3h.8M274.6 247.7h.8M275.0 234.5h.8M275.5 233.1h.8M275.8 203.3h.8M276.0 247.0h.8M276.4 194.3h.8M277.1 238.7h.8M277.1 239.5h.8M277.9 244.1h.8M278.0 228.0h.8M278.4 244.0h.8M278.7 223.9h.8M279.3 242.9h.8M279.8 235.3h.8M279.6 266.3h.8M280.9 242.3h.8M280.6 231.9h.8M281.5 237.3h.8M281.9 255.3h.8M282.0 252.7h.8M282.1 260.1h.8M282.5 248.8h.8M283.5 253.1h.8M283.2 234.8h.8M284.2 230.1h.8M284.4 238.1h.8M284.3 244.1h.8M284.8 264.0h.8M284.9 258.7h.8M285.3 235.7h.8M286.1 247.6h.8M286.6 221.0h.8M287.0 250.6h.8M287.1 247.4h.8M287.3 265.3h.8M288.4 274.3h.8M287.9 272.5h.8M288.5 256.0h.8M288.8 273.2h.8M289.3 234.5h.8M289.6 263.8h.8M290.4 272.2h.8M290.6 243.4h.8M290.8 277.4h.8M291.2 251.0h.8M291.9 278.1h.8M292.5 265.5h.8M292.3 281.4h.8M292.6 276.1h.8M293.6 277.0h.8M293.3 314.9h.8M293.9 278.1h.8M294.8 275.7h.8M295.0 270.6h.8M294.9 273.7h.8M295.6 274.5h.8M296.1 282.9h.8M296.5 282.6h.8M296.6 281.3h.8M296.7 231.6h.8M297.4 299.7h.8M298.2 293.3h.8M298.4 287.8h.8M298.3 275.3h.8M298.8 288.7h.8M299.2 263.4h.8M300.1 304.1h.8M300.0 291.1h.8M300.6 276.8h.8M301.2 286.5h.8M300.8 257.6h.8M301.7 284.8h.8M301.7 317.6h.8M302.6 285.6h.8M302.7 310.1h.8M302.8 293.5h.8M303.4 277.9h.8M303.6 286.2h.8M304.2 304.9h.8M304.4 290.6h.8M304.5 304.8h.8M305.1 300.1h.8M305.5 285.2h.8M306.3 298.3h.8M306.4 310.3h.8M306.7 292.1h.8M307.0 305.7h.8M307.2 277.1h.8M308.0 306.6h.8M308.6 292.3h.8M309.2 306.4h.8M308.8 324.2h.8M309.4 289.9h.8M309.5 280.8h.8M309.9 302.5h.8M310.3 316.9h.8M311.5 282.8h.8M311.1 286.4h.8M312.0 305.6h.8M311.9 267.4h.8M312.3 317.2h.8M312.9 291.3h.8M313.6 304.3h.8M313.5 298.5h.8M314.2 292.1h.8M314.7 320.4h.8M315.2 300.2h.8M314.9 291.8h.8M315.2 296.0h.8M315.6 324.3h.8M316.2 313.3h.8M317.1 327.0h.8M316.7 333.5h.8M317.8 315.2h.8M318.1 311.8h.8M318.1 312.0h.8M318.1 294.1h.8M318.8 324.0h.8M319.0 340.9h.8M319.3 328.2h.8M320.0 347.8h.8M320.3 323.5h.8M321.0 318.5h.8M321.0 331.1h.8M322.0 327.5h.8M321.6 335.1h.8M322.5 352.1h.8M322.6 316.0h.8M322.7 344.7h.8M323.4 344.7h.8M323.7 343.5h.8M324.7 348.4h.8M324.7 351.5h.8M324.6 342.9h.8M325.7 340.1h.8M325.4 348.4h.8M326.3 341.3h.8M326.5 334.6h.8M327.1 335.5h.8M327.4 338.6h.8M327.3 323.5h.8M328.4 361.7h.8M328.0 317.7h.8M328.3 342.3h.8M328.7 344.4h.8M329.8 323.0h.8M330.1 337.5h.8M330.0 327.6h.8M330.3 343.9h.8M331.3 329.9h.8M331.0 316.8h.8M331.7 340.8h.8M332.5 352.3h.8M332.3 331.3h.8M333.1 339.4h.8M333.3 354.8h.8M334.1 341.6h.8M333.7 358.6h.8M334.8 337.7h.8M334.5 346.3h.8M335.3 356.2h.8M335.5 361.8h.8M335.9 343.9h.8M336.5 365.7h.8M336.6 327.4h.8M336.7 360.2h.8M337.1 312.3h.8M337.7 343.2h.8M338.0 371.8h.8M338.1 355.5h.8M339.3 352.9h.8M339.3 345.1h.8M339.9 366.2h.8M340.3 329.9h.8M340.0 365.1h.8M340.4 357.6h.8M341.5 365.0h.8M341.7 373.0h.8M341.9 384.4h.8M342.3 342.1h.8M342.5 349.2h.8M343.3 367.1h.8M343.0 363.9h.8M343.6 352.5h.8M344.1 369.4h.8M344.5 344.1h.8M345.1 367.9h.8M345.6 360.6h.8M346.0 374.0h.8M346.8 335.1h.8M347.3 364.4h.8M346.9 363.7h.8M347.4 370.6h.8M347.6 378.8h.8M348.8 375.1h.8M349.5 377.2h.8M349.1 359.2h.8M350.1 367.4h.8M350.2 374.2h.8M351.1 374.9h.8M351.5 372.3h.8M351.4 372.3h.8M352.5 362.4h.8M353.0 369.8h.8M353.8 372.0h.8M354.0 358.4h.8M355.2 376.1h.8M354.8 380.2h.8M356.2 359.9h.8M356.0 385.2h.8M356.5 368.9h.8M356.6 371.3h.8M357.2 374.0h.8M358.1 381.2h.8M358.8 377.8h.8M360.8 382.3h.8M361.1 385.4h.8M361.7 371.5h.8M362.5 384.5h.8M362.6 365.7h.8M363.9 387.3h.8M364.6 386.4h.8M367.5 381.0h.8M369.1 386.6h.8M369.4 373.5h.8M370.0 384.2h.8M372.2 376.1h.8M373.1 381.4h.8M375.1 387.1h.8M378.3 384.9h.8"/><path stroke="#E10000" stroke-width="2.6" d="M70.3 169.4h.8M71.3 173.7h.8M71.5 170.8h.8M72.0 172.8h.8M72.4 167.1h.8M72.7 171.1h.8M73.0 171.2h.8M72.9 169.1h.8M73.6 163.7h.8M73.8 169.1h.8M74.5 168.7h.8M74.9 173.1h.8M75.3 173.4h.8M76.0 162.3h.8M76.2 170.5h.8M76.2 178.1h.8M76.6 179.7h.8M77.1 170.3h.8M77.3 164.6h.8M77.6 172.3h.8M77.7 166.4h.8M78.4 168.6h.8M79.3 172.5h.8M79.6 174.2h.8M79.2 167.5h.8M80.1 167.0h.8M80.3 173.6h.8M80.9 167.0h.8M80.9 165.2h.8M81.4 164.1h.8M81.8 166.7h.8M82.7 164.3h.8M82.5 158.9h.8M83.0 167.7h.8M83.6 170.1h.8M84.3 162.8h.8M84.4 163.5h.8M84.8 160.1h.8M84.8 160.8h.8M85.1 164.3h.8M85.9 163.0h.8M86.2 174.9h.8M86.2 171.4h.8M86.7 174.0h.8M87.6 173.1h.8M87.4 173.8h.8M88.3 166.6h.8M88.3 163.6h.8M88.7 164.2h.8M89.2 162.4h.8M89.3 162.1h.8M89.5 163.9h.8M90.4 172.8h.8M90.7 174.6h.8M91.0 160.9h.8M91.3 169.7h.8M91.7 159.5h.8M92.2 164.8h.8M92.3 167.7h.8M93.1 165.7h.8M93.5 162.7h.8M94.0 159.4h.8M93.9 163.7h.8M94.0 168.6h.8M94.3 160.9h.8M95.4 168.8h.8M95.9 158.8h.8M95.7 165.1h.8M96.3 165.0h.8M96.9 163.4h.8M97.1 170.0h.8M97.5 167.1h.8M98.1 180.8h.8M97.8 155.0h.8M98.1 153.4h.8M99.1 170.8h.8M99.6 167.8h.8M99.8 158.7h.8M100.0 165.9h.8M100.5 168.9h.8M101.3 161.7h.8M101.3 162.0h.8M101.1 171.2h.8M102.3 157.8h.8M102.1 150.4h.8M102.9 165.9h.8M102.9 170.0h.8M103.9 152.6h.8M104.3 159.7h.8M104.7 175.3h.8M104.5 165.4h.8M105.0 170.2h.8M105.1 166.2h.8M105.8 157.0h.8M106.1 158.6h.8M106.4 159.0h.8M107.1 174.8h.8M107.6 163.6h.8M107.8 155.2h.8M107.6 153.8h.8M108.2 163.5h.8M109.0 169.7h.8M108.6 167.5h.8M109.7 166.7h.8M109.9 169.5h.8M110.4 161.8h.8M110.4 162.3h.8M110.9 154.8h.8M111.3 166.4h.8M111.7 158.5h.8M112.3 168.3h.8M112.9 152.2h.8M112.7 166.2h.8M113.3 167.0h.8M113.3 166.4h.8M113.6 165.6h.8M114.3 150.8h.8M115.1 166.3h.8M114.8 172.4h.8M115.9 160.5h.8M115.7 161.9h.8M116.6 161.3h.8M116.4 164.3h.8M117.2 154.1h.8M117.0 158.7h.8M118.2 168.1h.8M117.8 162.8h.8M118.3 160.7h.8M119.4 164.1h.8M119.0 153.1h.8M119.2 157.0h.8M119.8 166.8h.8M120.2 165.4h.8M120.3 161.8h.8M120.9 154.3h.8M122.0 157.2h.8M122.3 161.7h.8M122.7 168.4h.8M122.4 153.4h.8M123.1 159.5h.8M123.4 157.8h.8M124.0 155.0h.8M124.0 162.7h.8M124.6 162.0h.8M124.7 152.3h.8M124.8 154.7h.8M125.7 145.9h.8M126.1 162.9h.8M126.7 159.7h.8M127.2 149.2h.8M126.9 165.1h.8M127.9 158.9h.8M128.1 152.3h.8M128.5 156.8h.8M128.4 157.7h.8M129.5 156.1h.8M129.1 156.5h.8M129.8 163.8h.8M130.6 165.8h.8M131.1 163.4h.8M130.9 161.2h.8M131.3 164.7h.8M132.0 174.9h.8M131.8 165.3h.8M132.7 148.7h.8M132.7 164.0h.8M133.6 145.7h.8M133.8 156.7h.8M134.4 155.4h.8M134.7 156.3h.8M134.6 153.7h.8M135.0 156.5h.8M135.2 159.9h.8M135.7 164.2h.8M136.6 151.0h.8M137.1 158.5h.8M136.9 149.7h.8M137.5 144.1h.8M138.1 164.8h.8M138.6 155.7h.8M138.1 151.1h.8M138.9 154.0h.8M139.4 150.0h.8M140.0 140.2h.8M139.6 152.2h.8M140.4 150.2h.8M140.7 165.1h.8M141.4 143.7h.8M141.3 147.8h.8M142.0 148.0h.8M142.4 149.5h.8M142.3 158.4h.8M142.7 158.3h.8M143.6 153.4h.8M143.9 156.9h.8M144.0 162.5h.8M144.9 145.1h.8M144.9 163.0h.8M145.0 151.2h.8M146.2 140.8h.8M145.7 156.7h.8M146.3 148.9h.8M146.9 141.4h.8M147.5 136.6h.8M147.3 161.5h.8M147.8 167.8h.8M148.6 151.5h.8M148.6 143.2h.8M148.7 142.8h.8M149.2 152.3h.8M150.3 163.8h.8M150.6 138.8h.8M150.2 151.2h.8M150.8 153.2h.8M151.7 157.3h.8M151.3 150.2h.8M151.7 146.8h.8M152.1 138.6h.8M152.4 137.6h.8M153.5 150.4h.8M153.6 158.9h.8M154.3 149.2h.8M154.7 136.9h.8M154.7 153.2h.8M155.0 139.3h.8M155.0 139.3h.8M156.0 140.2h.8M156.3 143.3h.8M156.8 138.1h.8M157.1 130.6h.8M157.6 137.5h.8M158.1 143.9h.8M158.5 140.9h.8M158.3 151.2h.8M158.7 135.3h.8M159.5 145.0h.8M160.0 161.4h.8M159.8 155.3h.8M160.1 141.7h.8M161.1 138.5h.8M160.7 149.6h.8M161.6 116.0h.8M162.4 145.3h.8M162.2 137.6h.8M163.0 130.0h.8M163.2 136.1h.8M163.5 123.1h.8M164.1 140.1h.8M163.8 139.5h.8M164.5 131.6h.8M165.1 143.0h.8M165.0 136.1h.8M165.3 144.8h.8M166.2 116.1h.8M166.8 140.3h.8M166.6 125.5h.8M167.6 127.5h.8M167.7 139.8h.8M167.6 139.1h.8M168.2 132.5h.8M168.7 147.8h.8M169.4 133.3h.8M169.0 127.1h.8M169.6 145.4h.8M170.5 132.0h.8M170.8 124.8h.8M170.5 126.8h.8M171.8 130.7h.8M171.4 131.8h.8M172.6 129.6h.8M172.7 123.8h.8M173.4 140.5h.8M173.6 136.0h.8M174.1 135.5h.8M174.4 117.1h.8M174.4 121.6h.8M174.6 124.4h.8M175.6 138.9h.8M176.0 129.6h.8M175.7 123.3h.8M176.5 128.7h.8M176.4 117.7h.8M177.4 137.8h.8M177.8 129.8h.8M177.3 114.9h.8M178.3 113.6h.8M178.7 126.4h.8M178.4 116.5h.8M179.0 107.1h.8M179.5 116.4h.8M180.0 120.8h.8M180.4 106.9h.8M180.6 114.4h.8M181.1 114.9h.8M182.0 104.2h.8M181.8 121.2h.8M182.5 137.0h.8M182.4 120.5h.8M182.6 126.0h.8M183.3 104.2h.8M184.1 127.8h.8M183.9 134.7h.8M184.3 109.6h.8M184.9 146.5h.8M185.7 120.4h.8M185.7 124.6h.8M186.5 109.0h.8M186.4 101.1h.8M186.8 104.4h.8M187.1 118.0h.8M187.4 117.0h.8M188.0 142.5h.8M188.2 116.3h.8M189.0 121.4h.8M188.9 89.8h.8M189.8 132.7h.8M190.1 95.2h.8M190.1 108.6h.8M190.7 106.4h.8M191.1 111.2h.8M190.9 121.2h.8M191.5 115.1h.8M191.7 105.2h.8M192.5 76.1h.8M192.9 95.3h.8M193.1 100.0h.8M193.4 97.1h.8M194.2 86.5h.8M194.3 104.6h.8M195.0 91.9h.8M195.3 88.9h.8M195.7 133.5h.8M195.9 104.9h.8M195.8 104.5h.8M196.9 93.0h.8M197.2 99.5h.8M197.8 117.8h.8M197.8 92.9h.8M198.4 112.6h.8M198.8 122.1h.8M199.4 87.1h.8M199.5 85.6h.8M200.1 92.6h.8M199.6 115.5h.8M200.3 107.8h.8M201.2 94.4h.8M200.9 93.1h.8M201.8 114.7h.8M202.2 114.5h.8M202.7 83.4h.8M202.3 88.0h.8M203.1 88.2h.8M203.8 95.9h.8M203.8 102.8h.8M204.4 51.1h.8M205.0 100.1h.8M204.5 85.2h.8M205.2 92.0h.8M206.1 93.9h.8M206.2 94.0h.8M206.1 89.9h.8M206.9 84.4h.8M206.7 101.2h.8M207.4 77.0h.8M207.5 97.9h.8M208.6 93.6h.8M209.1 110.2h.8M208.9 98.3h.8M209.7 81.4h.8M209.4 78.0h.8M210.5 97.1h.8M210.8 75.2h.8M211.0 100.1h.8M211.7 70.6h.8M211.9 79.3h.8M212.6 80.9h.8M212.8 68.2h.8M213.0 80.6h.8M213.7 91.3h.8M213.6 90.1h.8M214.3 86.0h.8M214.7 58.3h.8M214.9 79.1h.8M214.6 73.0h.8M215.1 65.6h.8M215.5 84.8h.8M216.3 57.6h.8M216.7 79.9h.8M217.5 72.5h.8M217.5 52.0h.8M217.9 83.6h.8M217.8 89.9h.8M218.1 69.3h.8M218.6 68.6h.8M219.6 71.7h.8M219.4 90.5h.8M220.5 58.7h.8M220.2 85.0h.8M220.5 89.5h.8M220.9 56.1h.8M222.0 96.8h.8M221.7 37.4h.8M222.0 69.4h.8M222.8 73.5h.8M223.3 103.0h.8M223.1 82.4h.8M223.9 94.4h.8M223.9 79.2h.8M224.8 55.4h.8M224.5 95.2h.8M225.2 69.6h.8M225.6 75.0h.8M226.5 88.4h.8M226.0 94.3h.8M227.1 98.7h.8M227.6 118.1h.8M227.4 94.9h.8M227.7 62.1h.8M228.6 66.2h.8M228.9 80.8h.8M228.6 93.6h.8M229.3 42.6h.8M230.3 98.0h.8M230.5 63.9h.8M230.9 75.9h.8M231.0 52.3h.8M231.4 89.0h.8M231.8 74.0h.8M232.4 88.2h.8M232.7 78.0h.8M232.7 74.0h.8M233.2 92.4h.8M233.9 74.7h.8M234.0 75.4h.8M234.7 98.5h.8M234.7 96.4h.8M235.6 67.5h.8M235.9 101.8h.8M235.9 69.4h.8M236.6 78.5h.8M236.8 108.4h.8M236.5 51.3h.8M236.9 97.0h.8M237.4 87.5h.8M238.0 55.2h.8M238.7 95.5h.8M238.6 56.1h.8M239.0 76.7h.8M240.0 80.3h.8M240.1 83.5h.8M240.9 89.9h.8M241.2 82.8h.8M241.1 85.2h.8M241.7 81.9h.8M241.8 75.3h.8M242.7 95.7h.8M242.3 59.1h.8M243.2 84.7h.8M243.4 93.7h.8M243.8 78.9h.8M244.2 56.3h.8M244.2 70.5h.8M244.9 92.9h.8M245.6 94.6h.8M245.8 85.6h.8M246.4 107.4h.8M246.5 108.6h.8M247.2 113.0h.8M247.5 83.2h.8M248.1 86.3h.8M247.9 91.9h.8M248.7 85.0h.8M248.7 104.4h.8M249.3 84.5h.8M249.4 88.4h.8M250.3 93.1h.8M250.0 92.0h.8M250.6 101.9h.8M251.1 90.7h.8M251.0 58.4h.8M252.0 69.0h.8M251.9 82.3h.8M252.7 80.2h.8M253.2 101.6h.8M253.6 94.8h.8M254.0 114.2h.8M253.7 82.1h.8M253.9 131.0h.8M254.4 93.5h.8M255.4 123.0h.8M255.0 87.1h.8M255.8 107.9h.8M256.4 106.7h.8M256.4 91.7h.8M257.1 116.2h.8M257.8 111.1h.8M258.2 124.3h.8M258.2 127.2h.8M258.5 80.9h.8M258.7 80.9h.8M259.6 75.8h.8M259.6 106.9h.8M260.1 125.3h.8M260.2 96.8h.8M260.9 137.5h.8M261.2 114.5h.8M261.1 82.4h.8M261.6 136.8h.8M262.2 73.6h.8M263.1 111.8h.8M262.9 114.1h.8M263.7 94.5h.8M263.4 120.6h.8M264.0 122.9h.8M264.1 97.1h.8M264.5 110.9h.8M265.5 117.7h.8M265.5 97.7h.8M266.3 136.3h.8M266.6 103.5h.8M266.8 108.6h.8M267.5 109.0h.8M268.1 137.6h.8M268.4 115.2h.8M267.9 113.3h.8M268.8 95.7h.8M268.6 117.8h.8M269.3 75.4h.8M269.9 137.3h.8M270.6 114.2h.8M270.1 134.1h.8M271.3 150.0h.8M271.2 128.7h.8M272.1 140.0h.8M271.7 134.8h.8M272.9 181.9h.8M272.7 127.4h.8M273.3 128.5h.8M273.3 145.0h.8M273.7 154.7h.8M274.4 126.6h.8M274.5 142.1h.8M274.9 138.7h.8M275.4 140.4h.8M276.0 127.7h.8M276.4 157.2h.8M277.0 118.6h.8M276.9 153.2h.8M277.7 148.6h.8M277.5 136.6h.8M277.8 165.9h.8M278.8 145.7h.8M279.1 151.2h.8M279.6 167.2h.8M279.4 170.2h.8M280.0 169.2h.8M280.1 147.6h.8M280.6 171.9h.8M281.4 159.8h.8M281.4 166.6h.8M281.9 137.6h.8M282.2 176.7h.8M282.8 159.5h.8M283.5 142.7h.8M283.7 168.2h.8M283.8 158.0h.8M283.9 153.5h.8M284.3 189.0h.8M284.8 169.8h.8M285.8 154.3h.8M286.0 173.7h.8M286.0 177.5h.8M286.6 169.6h.8M286.4 205.2h.8M287.3 174.9h.8M288.0 161.3h.8M288.0 205.1h.8M288.7 154.3h.8M289.0 169.6h.8M289.4 200.4h.8M289.9 178.2h.8M290.2 188.4h.8M289.9 173.1h.8M290.7 181.7h.8M290.7 195.7h.8M291.2 183.7h.8M291.5 175.1h.8M292.2 202.8h.8M292.5 194.8h.8M292.7 204.0h.8M293.7 173.2h.8M293.6 197.4h.8M294.2 182.7h.8M293.9 164.1h.8M294.9 200.3h.8M294.7 196.3h.8M295.6 178.8h.8M295.9 201.5h.8M296.5 195.8h.8M296.6 203.7h.8M296.7 186.4h.8M297.2 197.6h.8M297.4 197.7h.8M297.8 181.4h.8M298.8 195.1h.8M298.8 202.9h.8M298.8 202.2h.8M299.2 172.5h.8M300.3 238.5h.8M300.5 179.0h.8M300.7 197.7h.8M301.6 200.8h.8M301.8 210.0h.8M301.5 202.5h.8M302.2 212.8h.8M302.8 192.0h.8M302.6 200.6h.8M303.7 192.8h.8M303.9 217.6h.8M304.5 223.3h.8M304.9 194.6h.8M304.9 226.4h.8M304.8 229.8h.8M305.5 215.6h.8M306.3 221.4h.8M306.0 200.6h.8M307.0 196.3h.8M307.0 216.3h.8M307.7 223.4h.8M307.9 210.5h.8M308.3 216.5h.8M309.2 234.2h.8M309.2 228.1h.8M309.8 239.1h.8M309.9 237.3h.8M310.4 219.3h.8M311.1 229.4h.8M311.3 214.9h.8M311.6 225.0h.8M312.1 212.1h.8M312.3 219.1h.8M312.8 241.7h.8M313.2 227.8h.8M313.6 244.9h.8M313.7 234.6h.8M314.4 200.4h.8M314.8 221.8h.8M314.6 236.4h.8M314.9 230.7h.8M315.9 241.4h.8M315.8 235.8h.8M316.1 239.1h.8M317.0 240.9h.8M317.3 229.3h.8M317.7 219.8h.8M318.2 231.4h.8M318.3 244.3h.8M318.3 224.9h.8M319.0 245.1h.8M318.8 242.3h.8M320.0 237.3h.8M319.6 225.2h.8M320.2 218.1h.8M321.3 229.8h.8M321.2 226.6h.8M321.2 260.9h.8M322.3 229.9h.8M322.6 256.7h.8M322.7 217.4h.8M322.7 242.6h.8M323.6 241.2h.8M324.3 240.0h.8M324.1 239.2h.8M324.1 226.9h.8M324.5 222.5h.8M324.9 253.0h.8M325.4 242.8h.8M326.3 243.6h.8M326.3 204.6h.8M326.6 239.4h.8M327.0 251.2h.8M327.7 252.3h.8M327.9 263.7h.8M328.6 228.5h.8M329.2 282.4h.8M328.9 261.1h.8M329.0 260.3h.8M329.5 254.4h.8M329.8 241.2h.8M330.8 259.2h.8M331.0 245.7h.8M331.9 261.1h.8M331.6 266.6h.8M332.5 241.6h.8M332.4 275.9h.8M333.0 274.8h.8M333.3 263.9h.8M334.0 254.7h.8M333.9 266.9h.8M334.2 266.0h.8M335.0 256.4h.8M335.3 241.2h.8M335.9 271.1h.8M336.0 264.0h.8M335.8 267.3h.8M337.0 264.9h.8M336.8 240.5h.8M337.1 272.9h.8M337.3 286.7h.8M338.5 273.0h.8M338.9 249.0h.8M339.0 272.7h.8M339.3 271.4h.8M339.7 265.9h.8M340.3 274.3h.8M339.9 269.2h.8M341.2 278.0h.8M341.2 267.8h.8M341.7 268.0h.8M341.7 259.0h.8M342.7 260.7h.8M342.6 247.2h.8M343.0 280.4h.8M343.5 281.0h.8M343.9 264.6h.8M344.4 276.8h.8M344.9 285.2h.8M344.6 269.3h.8M345.0 289.7h.8M346.0 288.9h.8M346.2 281.2h.8M346.6 270.3h.8M346.7 300.1h.8M347.4 285.4h.8M347.2 287.1h.8M347.9 273.1h.8M348.5 306.1h.8M348.9 271.0h.8M349.2 290.2h.8M349.9 290.9h.8M350.3 294.4h.8M349.8 288.6h.8M350.3 274.9h.8M351.3 276.1h.8M351.2 309.2h.8M351.8 284.5h.8M352.4 291.7h.8M352.3 291.9h.8M352.9 295.8h.8M353.6 298.4h.8M354.0 310.4h.8M353.8 288.1h.8M354.1 273.5h.8M355.2 306.6h.8M355.3 295.6h.8M355.9 300.1h.8M355.8 287.5h.8M356.2 301.7h.8M357.2 287.8h.8M357.0 288.0h.8M357.2 287.6h.8M357.5 289.8h.8M358.5 303.5h.8M358.6 311.7h.8M358.6 291.7h.8M359.0 297.0h.8M359.8 296.9h.8M360.0 320.6h.8M360.4 299.3h.8M360.5 303.8h.8M361.7 305.7h.8M361.3 308.5h.8M361.8 289.5h.8M362.2 297.9h.8M362.7 306.1h.8M363.5 297.9h.8M363.7 295.0h.8M364.0 295.6h.8M364.1 298.7h.8M364.2 326.3h.8M365.1 312.1h.8M365.4 293.3h.8M365.4 303.6h.8M366.2 321.2h.8M366.2 284.7h.8M366.8 323.3h.8M367.5 318.9h.8M367.1 291.8h.8M368.0 299.7h.8M368.4 299.4h.8M368.9 306.5h.8M369.0 310.4h.8M370.0 303.7h.8M369.9 333.7h.8M370.1 279.9h.8M370.8 329.6h.8M371.2 292.4h.8M371.1 305.7h.8M371.8 303.3h.8M372.6 313.8h.8M372.2 303.1h.8M373.3 301.0h.8M373.0 306.8h.8M373.4 336.2h.8M374.5 287.9h.8M374.0 337.1h.8M375.1 298.3h.8M375.1 325.9h.8M375.9 332.6h.8M376.0 306.8h.8M376.3 309.5h.8M376.2 297.4h.8M377.1 293.4h.8M377.5 337.7h.8M377.4 329.9h.8M378.6 289.8h.8M378.5 301.9h.8M378.7 320.0h.8M378.9 310.3h.8M379.3 308.6h.8M380.3 328.8h.8M380.2 321.7h.8M380.5 319.7h.8M381.2 323.7h.8M381.6 296.8h.8M381.8 329.2h.8M382.8 320.8h.8M383.0 334.3h.8M382.9 333.1h.8M383.6 312.4h.8M383.9 331.9h.8M384.4 332.3h.8M384.8 329.3h.8M385.4 333.4h.8M385.0 325.4h.8M385.4 334.7h.8M386.6 335.2h.8M386.8 309.7h.8M387.1 319.0h.8M386.8 329.7h.8M387.9 334.3h.8M387.9 331.8h.8M388.0 342.5h.8M388.8 336.1h.8M389.4 349.6h.8M389.4 340.4h.8M389.9 347.0h.8M390.3 311.8h.8M391.0 335.5h.8M390.9 332.2h.8M391.3 335.5h.8M392.2 306.9h.8M392.2 343.2h.8M392.4 341.7h.8M393.0 333.0h.8M393.2 337.0h.8M394.1 337.7h.8M393.8 342.3h.8M394.3 351.8h.8M394.9 334.3h.8M395.2 341.3h.8M395.7 350.2h.8M396.1 344.7h.8M396.7 354.4h.8M396.8 330.2h.8M396.5 365.8h.8M397.1 336.8h.8M397.7 339.0h.8M398.5 364.4h.8M398.1 343.6h.8M398.8 347.2h.8M398.8 328.9h.8M400.1 369.9h.8M400.1 337.2h.8M400.8 327.1h.8M400.4 357.9h.8M401.5 343.4h.8M401.7 339.9h.8M402.0 335.0h.8M402.8 370.4h.8M403.1 333.1h.8M403.3 353.7h.8M403.5 350.8h.8M403.6 355.4h.8M403.8 357.7h.8M404.2 353.2h.8M404.6 386.9h.8M405.4 340.7h.8M405.3 359.8h.8M406.2 362.3h.8M406.7 365.1h.8M406.4 319.7h.8M407.2 368.0h.8M408.0 332.9h.8M407.6 325.3h.8M408.3 375.3h.8M408.9 369.7h.8M408.9 339.7h.8M409.4 354.5h.8M409.4 374.0h.8M410.7 330.4h.8M411.1 361.1h.8M411.2 375.6h.8M411.2 355.6h.8M411.3 374.3h.8M412.3 361.0h.8M412.0 361.4h.8M412.6 340.3h.8M413.7 358.4h.8M413.2 340.9h.8M414.9 373.5h.8M414.7 374.8h.8M415.4 376.1h.8M415.4 373.2h.8M415.8 318.6h.8M416.2 360.3h.8M416.2 368.0h.8M416.6 369.3h.8M417.1 372.8h.8M418.2 381.4h.8M418.8 364.4h.8M419.0 358.7h.8M420.1 372.2h.8M419.8 352.8h.8M420.1 373.3h.8M421.2 345.8h.8M421.3 343.6h.8M421.1 351.7h.8M421.8 348.0h.8M422.6 360.9h.8M423.2 374.6h.8M423.0 351.0h.8M424.2 363.2h.8M423.7 341.6h.8M424.3 350.9h.8M425.2 383.8h.8M425.1 373.5h.8M425.6 360.3h.8M426.2 372.3h.8M426.8 345.5h.8M427.1 348.8h.8M427.8 370.5h.8M428.8 368.1h.8M428.3 378.9h.8M429.7 380.2h.8M430.6 350.7h.8M431.1 365.6h.8M431.6 363.5h.8M432.2 365.1h.8M431.8 384.4h.8M432.8 356.4h.8M432.8 368.2h.8M433.7 323.6h.8M433.9 357.3h.8M434.7 370.5h.8M434.6 363.2h.8M434.8 326.5h.8M435.2 362.2h.8M435.8 377.0h.8M436.0 348.7h.8M438.1 353.8h.8M439.0 382.1h.8M438.9 385.8h.8M439.4 374.4h.8M440.6 386.2h.8M441.2 337.2h.8M442.1 372.6h.8M442.5 384.6h.8M442.3 370.0h.8M443.7 373.9h.8M444.3 369.5h.8M444.3 350.7h.8M444.8 378.2h.8M446.2 361.3h.8M446.6 354.6h.8M447.2 380.3h.8M447.3 384.1h.8"/>
</g>
<path d="M146.2 386.0v-6.5M146.2 10.0v6.5M222.2 386.0v-6.5M222.2 10.0v6.5M297.7 386.0v-6.5M297.7 10.0v6.5M373.1 386.0v-6.5M373.1 10.0v6.5M71.0 63.40h6.5M448.0 63.40h-6.5M71.0 117.60h6.5M448.0 117.60h-6.5M71.0 171.50h6.5M448.0 171.50h-6.5M71.0 225.45h6.5M448.0 225.45h-6.5M71.0 279.30h6.5M448.0 279.30h-6.5M71.0 333.20h6.5M448.0 333.20h-6.5" fill="none" stroke="#2a2a2a" stroke-width="1.1"/>
<path d="M71.0 10.0H448.0V386.0H71.0Z" fill="none" stroke="#5c5c5c" stroke-width="1.7"/>
<g font-size="21" text-anchor="end"><text x="61.8" y="19.0">9</text><text x="61.8" y="72.7">6</text><text x="61.8" y="126.4">3</text><text x="61.8" y="180.1">0</text><text x="61.8" y="233.9">-3</text><text x="61.8" y="287.6">-6</text><text x="61.8" y="341.3">-9</text><text x="61.8" y="395.0">-12</text></g>
<g font-size="21" text-anchor="middle"><text x="70.9" y="415.5">0</text><text x="146.4" y="415.5">5</text><text x="222.8" y="415.5">10</text><text x="298.2" y="415.5">15</text><text x="373.4" y="415.5">20</text><text x="448.0" y="415.5">25</text></g>
<text x="180.3" y="447.9" font-size="21.2">Frequency (GHz)</text>
<text transform="translate(19.3 269.3) rotate(-90)" font-size="21.3">Response (dB)</text>
<g font-size="17.5">
<text x="117" y="221.5">25</text>
<text x="170.5" y="204.5">40</text>
<text x="218.6" y="191">80</text>
<text x="310.5" y="160.5">200</text>
<text x="93" y="51.6">I<tspan font-size="12" dy="3.6" dx="-0.3">bias</tspan><tspan dy="-3.6" dx="-0.4"> (μA)</tspan></text>
</g>
</svg>
</body></html>
